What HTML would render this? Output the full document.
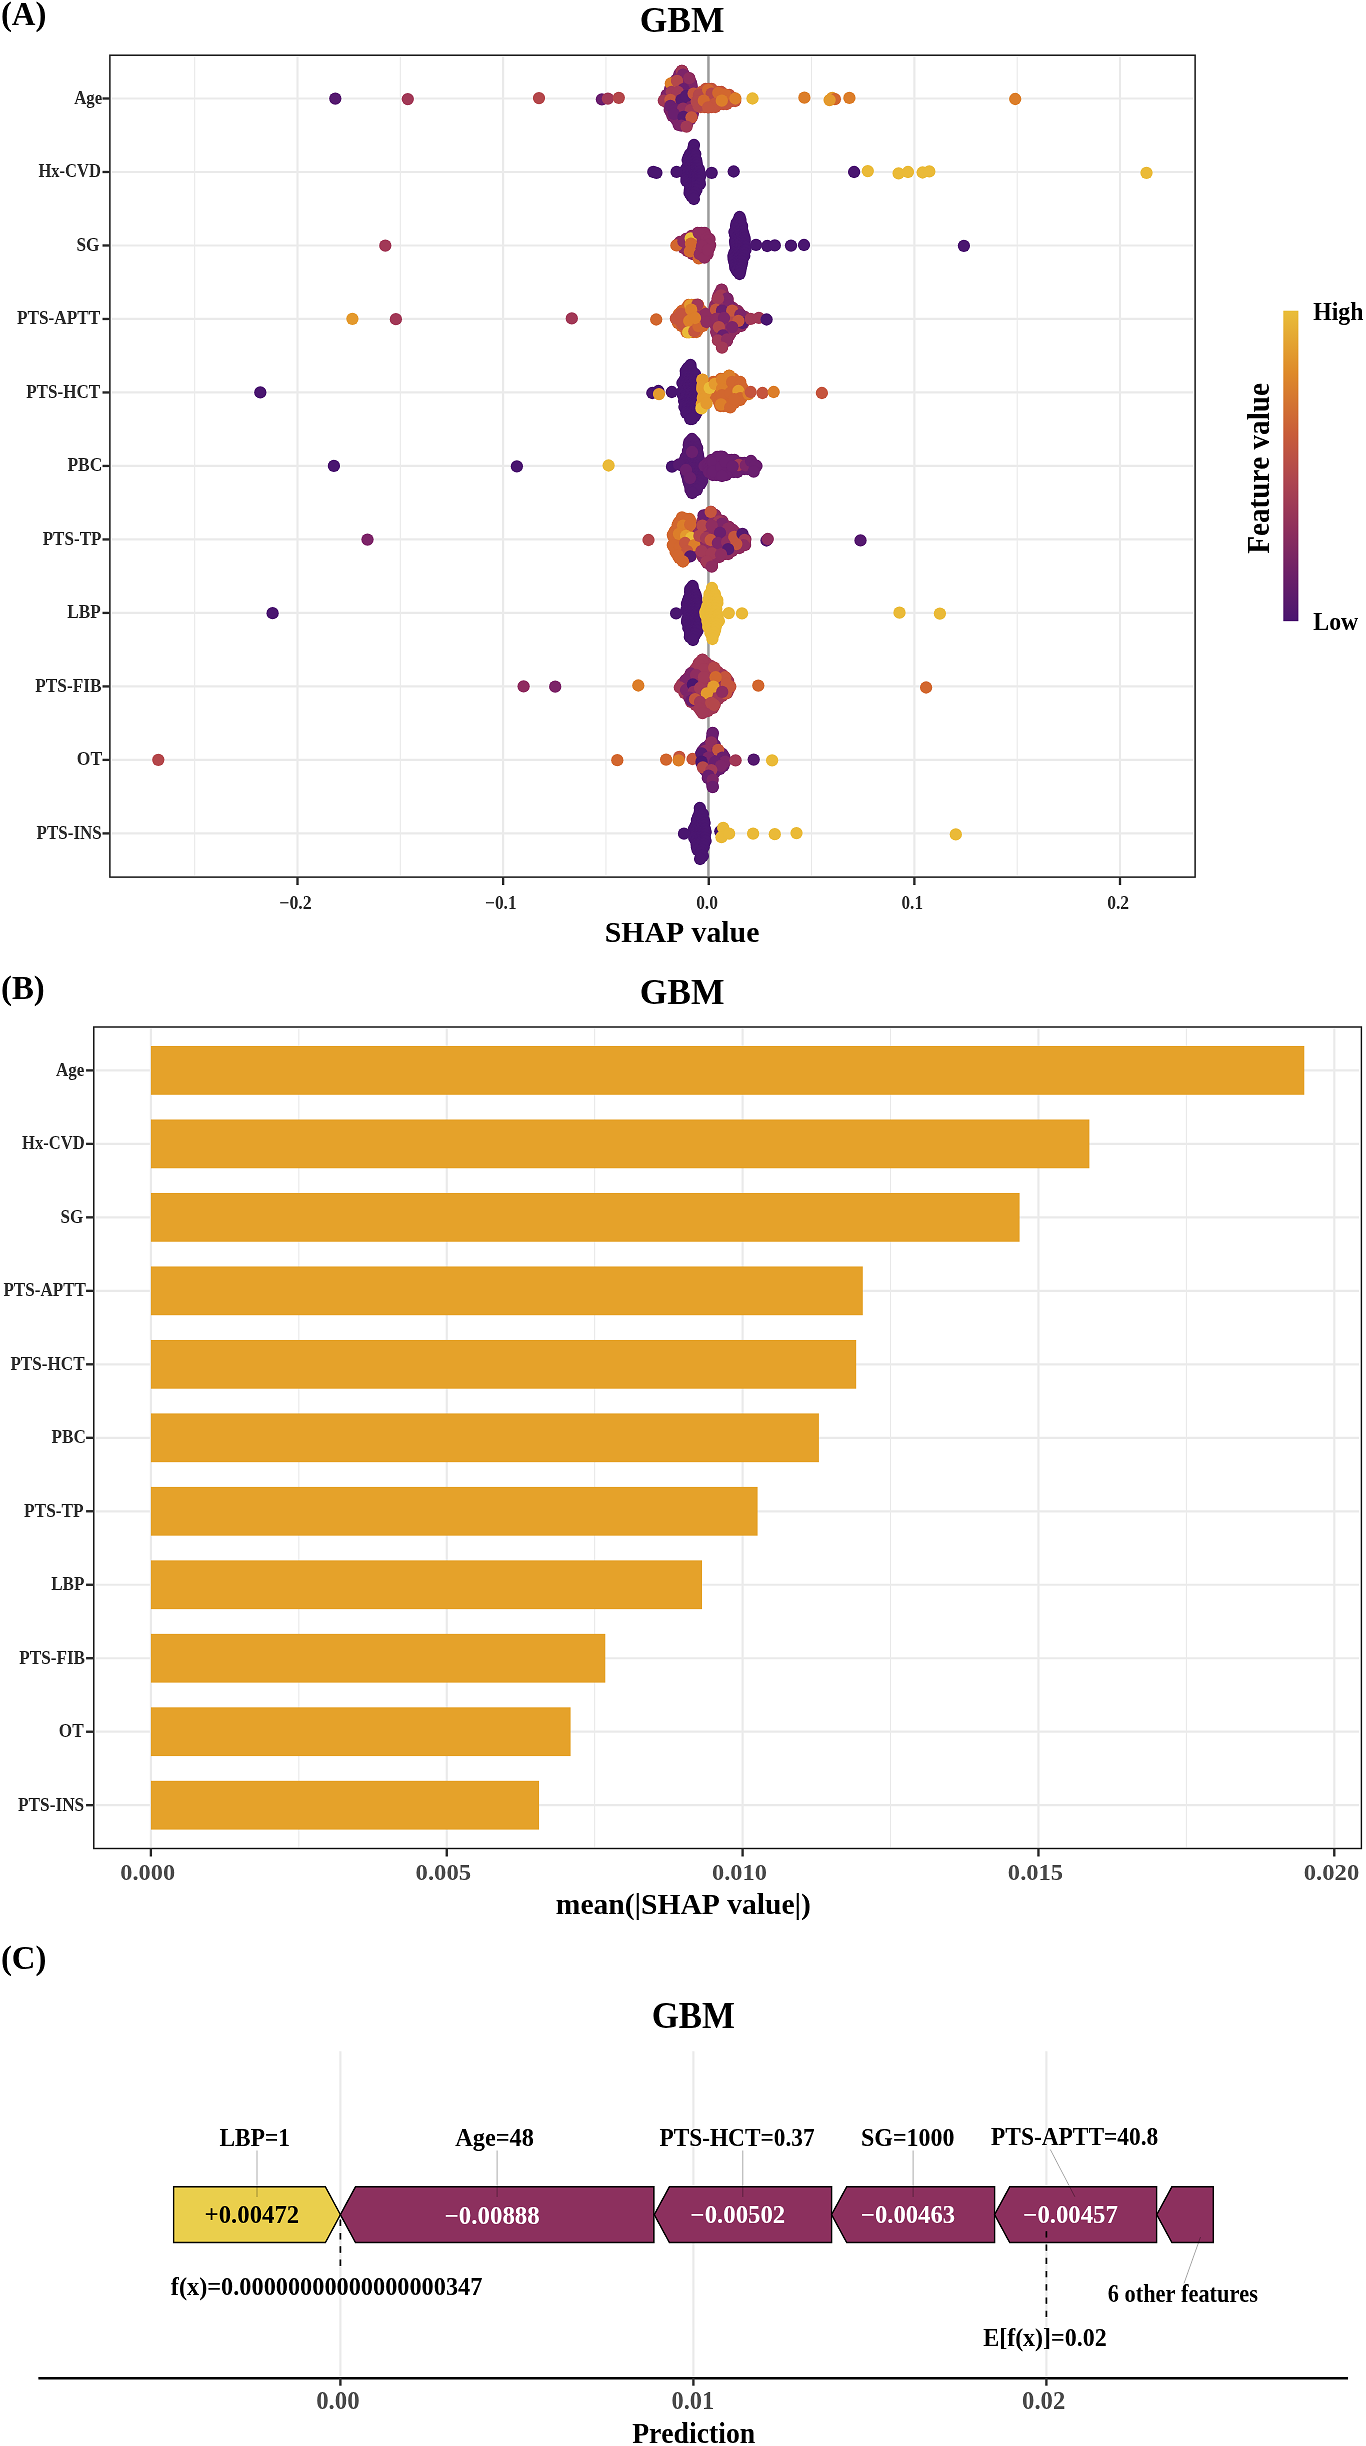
<!DOCTYPE html>
<html><head><meta charset="utf-8"><style>
html,body{margin:0;padding:0;background:#fff;}
svg{display:block;will-change:transform;}
text{font-family:"Liberation Serif", serif;font-weight:bold;font-kerning:none;}
</style></head><body>
<svg width="1366" height="2446" viewBox="0 0 1366 2446">
<defs><filter id="gs" x="0" y="0" width="1366" height="2446" filterUnits="userSpaceOnUse" primitiveUnits="userSpaceOnUse" color-interpolation-filters="sRGB"><feConvolveMatrix order="3" kernelMatrix="0 -0.11 0 -0.11 1.440 -0.11 0 -0.11 0" edgeMode="duplicate" preserveAlpha="true"/></filter></defs><g filter="url(#gs)"><rect width="1366" height="2446" fill="#fff"/>
<text x="0.96" y="24.60" font-size="33.00" textLength="45.48" lengthAdjust="spacingAndGlyphs" fill="#000">(A)</text>
<text x="639.77" y="32.30" font-size="36.40" textLength="84.75" lengthAdjust="spacingAndGlyphs" fill="#000">GBM</text>
<line x1="194.69" y1="56.00" x2="194.69" y2="876.00" stroke="#EBEBEB" stroke-width="1.1"/>
<line x1="400.31" y1="56.00" x2="400.31" y2="876.00" stroke="#EBEBEB" stroke-width="1.1"/>
<line x1="605.94" y1="56.00" x2="605.94" y2="876.00" stroke="#EBEBEB" stroke-width="1.1"/>
<line x1="811.56" y1="56.00" x2="811.56" y2="876.00" stroke="#EBEBEB" stroke-width="1.1"/>
<line x1="1017.19" y1="56.00" x2="1017.19" y2="876.00" stroke="#EBEBEB" stroke-width="1.1"/>
<line x1="297.50" y1="56.00" x2="297.50" y2="876.00" stroke="#EBEBEB" stroke-width="2.2"/>
<line x1="503.12" y1="56.00" x2="503.12" y2="876.00" stroke="#EBEBEB" stroke-width="2.2"/>
<line x1="914.38" y1="56.00" x2="914.38" y2="876.00" stroke="#EBEBEB" stroke-width="2.2"/>
<line x1="1120.00" y1="56.00" x2="1120.00" y2="876.00" stroke="#EBEBEB" stroke-width="2.2"/>
<line x1="112.00" y1="98.50" x2="1193.00" y2="98.50" stroke="#EBEBEB" stroke-width="2.2"/>
<line x1="112.00" y1="171.99" x2="1193.00" y2="171.99" stroke="#EBEBEB" stroke-width="2.2"/>
<line x1="112.00" y1="245.48" x2="1193.00" y2="245.48" stroke="#EBEBEB" stroke-width="2.2"/>
<line x1="112.00" y1="318.97" x2="1193.00" y2="318.97" stroke="#EBEBEB" stroke-width="2.2"/>
<line x1="112.00" y1="392.46" x2="1193.00" y2="392.46" stroke="#EBEBEB" stroke-width="2.2"/>
<line x1="112.00" y1="465.95" x2="1193.00" y2="465.95" stroke="#EBEBEB" stroke-width="2.2"/>
<line x1="112.00" y1="539.44" x2="1193.00" y2="539.44" stroke="#EBEBEB" stroke-width="2.2"/>
<line x1="112.00" y1="612.93" x2="1193.00" y2="612.93" stroke="#EBEBEB" stroke-width="2.2"/>
<line x1="112.00" y1="686.42" x2="1193.00" y2="686.42" stroke="#EBEBEB" stroke-width="2.2"/>
<line x1="112.00" y1="759.91" x2="1193.00" y2="759.91" stroke="#EBEBEB" stroke-width="2.2"/>
<line x1="112.00" y1="833.40" x2="1193.00" y2="833.40" stroke="#EBEBEB" stroke-width="2.2"/>
<line x1="708.45" y1="56.00" x2="708.45" y2="876.00" stroke="#A0A0A0" stroke-width="2.5"/>
<circle cx="682.0" cy="70.8" r="6.15" fill="#7D2569"/>
<circle cx="679.5" cy="73.8" r="6.15" fill="#7D2569"/>
<circle cx="683.5" cy="73.8" r="6.15" fill="#7D2569"/>
<circle cx="678.6" cy="76.8" r="6.15" fill="#7D2569"/>
<circle cx="682.2" cy="76.8" r="6.15" fill="#7D2569"/>
<circle cx="685.8" cy="76.8" r="6.15" fill="#7D2569"/>
<circle cx="676.2" cy="79.8" r="6.15" fill="#7D2569"/>
<circle cx="679.5" cy="79.8" r="6.15" fill="#7D2569"/>
<circle cx="682.8" cy="79.8" r="6.15" fill="#7D2569"/>
<circle cx="686.1" cy="79.8" r="6.15" fill="#7D2569"/>
<circle cx="689.4" cy="79.8" r="6.15" fill="#7D2569"/>
<circle cx="673.2" cy="82.8" r="6.15" fill="#7D2569"/>
<circle cx="676.7" cy="82.8" r="6.15" fill="#7D2569"/>
<circle cx="680.3" cy="82.8" r="6.15" fill="#7D2569"/>
<circle cx="683.8" cy="82.8" r="6.15" fill="#7D2569"/>
<circle cx="687.4" cy="82.8" r="6.15" fill="#7D2569"/>
<circle cx="691.0" cy="82.8" r="6.15" fill="#7D2569"/>
<circle cx="671.6" cy="85.8" r="6.15" fill="#7D2569"/>
<circle cx="675.0" cy="85.8" r="6.15" fill="#7D2569"/>
<circle cx="678.3" cy="85.8" r="6.15" fill="#7D2569"/>
<circle cx="681.7" cy="85.8" r="6.15" fill="#7D2569"/>
<circle cx="685.0" cy="85.8" r="6.15" fill="#7D2569"/>
<circle cx="688.4" cy="85.8" r="6.15" fill="#7D2569"/>
<circle cx="691.7" cy="85.8" r="6.15" fill="#7D2569"/>
<circle cx="670.2" cy="88.8" r="6.15" fill="#7D2569"/>
<circle cx="673.8" cy="88.8" r="6.15" fill="#7D2569"/>
<circle cx="677.4" cy="88.8" r="6.15" fill="#7D2569"/>
<circle cx="680.9" cy="88.8" r="6.15" fill="#7D2569"/>
<circle cx="684.5" cy="88.8" r="6.15" fill="#7D2569"/>
<circle cx="688.1" cy="88.8" r="6.15" fill="#7D2569"/>
<circle cx="691.6" cy="88.8" r="6.15" fill="#7D2569"/>
<circle cx="669.9" cy="91.8" r="6.15" fill="#7D2569"/>
<circle cx="673.4" cy="91.8" r="6.15" fill="#7D2569"/>
<circle cx="677.0" cy="91.8" r="6.15" fill="#7D2569"/>
<circle cx="680.6" cy="91.8" r="6.15" fill="#7D2569"/>
<circle cx="684.2" cy="91.8" r="6.15" fill="#7D2569"/>
<circle cx="687.8" cy="91.8" r="6.15" fill="#7D2569"/>
<circle cx="691.4" cy="91.8" r="6.15" fill="#7D2569"/>
<circle cx="695.0" cy="91.8" r="6.15" fill="#7D2569"/>
<circle cx="666.7" cy="94.8" r="6.15" fill="#7D2569"/>
<circle cx="670.2" cy="94.8" r="6.15" fill="#7D2569"/>
<circle cx="673.7" cy="94.8" r="6.15" fill="#7D2569"/>
<circle cx="677.1" cy="94.8" r="6.15" fill="#7D2569"/>
<circle cx="680.6" cy="94.8" r="6.15" fill="#7D2569"/>
<circle cx="684.1" cy="94.8" r="6.15" fill="#7D2569"/>
<circle cx="687.6" cy="94.8" r="6.15" fill="#7D2569"/>
<circle cx="691.0" cy="94.8" r="6.15" fill="#7D2569"/>
<circle cx="694.5" cy="94.8" r="6.15" fill="#7D2569"/>
<circle cx="666.1" cy="97.8" r="6.15" fill="#7D2569"/>
<circle cx="669.6" cy="97.8" r="6.15" fill="#7D2569"/>
<circle cx="673.2" cy="97.8" r="6.15" fill="#7D2569"/>
<circle cx="676.8" cy="97.8" r="6.15" fill="#7D2569"/>
<circle cx="680.4" cy="97.8" r="6.15" fill="#7D2569"/>
<circle cx="684.0" cy="97.8" r="6.15" fill="#7D2569"/>
<circle cx="687.6" cy="97.8" r="6.15" fill="#7D2569"/>
<circle cx="691.2" cy="97.8" r="6.15" fill="#7D2569"/>
<circle cx="694.7" cy="97.8" r="6.15" fill="#7D2569"/>
<circle cx="698.3" cy="97.8" r="6.15" fill="#7D2569"/>
<circle cx="664.8" cy="100.8" r="6.15" fill="#7D2569"/>
<circle cx="668.4" cy="100.8" r="6.15" fill="#7D2569"/>
<circle cx="672.0" cy="100.8" r="6.15" fill="#7D2569"/>
<circle cx="675.6" cy="100.8" r="6.15" fill="#7D2569"/>
<circle cx="679.2" cy="100.8" r="6.15" fill="#7D2569"/>
<circle cx="682.7" cy="100.8" r="6.15" fill="#7D2569"/>
<circle cx="686.3" cy="100.8" r="6.15" fill="#7D2569"/>
<circle cx="689.9" cy="100.8" r="6.15" fill="#7D2569"/>
<circle cx="693.5" cy="100.8" r="6.15" fill="#7D2569"/>
<circle cx="697.1" cy="100.8" r="6.15" fill="#7D2569"/>
<circle cx="668.4" cy="103.8" r="6.15" fill="#7D2569"/>
<circle cx="672.0" cy="103.8" r="6.15" fill="#7D2569"/>
<circle cx="675.6" cy="103.8" r="6.15" fill="#7D2569"/>
<circle cx="679.2" cy="103.8" r="6.15" fill="#7D2569"/>
<circle cx="682.8" cy="103.8" r="6.15" fill="#7D2569"/>
<circle cx="686.5" cy="103.8" r="6.15" fill="#7D2569"/>
<circle cx="690.1" cy="103.8" r="6.15" fill="#7D2569"/>
<circle cx="693.7" cy="103.8" r="6.15" fill="#7D2569"/>
<circle cx="670.2" cy="106.8" r="6.15" fill="#7D2569"/>
<circle cx="673.9" cy="106.8" r="6.15" fill="#7D2569"/>
<circle cx="677.6" cy="106.8" r="6.15" fill="#7D2569"/>
<circle cx="681.2" cy="106.8" r="6.15" fill="#7D2569"/>
<circle cx="684.9" cy="106.8" r="6.15" fill="#7D2569"/>
<circle cx="688.6" cy="106.8" r="6.15" fill="#7D2569"/>
<circle cx="692.2" cy="106.8" r="6.15" fill="#7D2569"/>
<circle cx="669.7" cy="109.8" r="6.15" fill="#7D2569"/>
<circle cx="673.2" cy="109.8" r="6.15" fill="#7D2569"/>
<circle cx="676.7" cy="109.8" r="6.15" fill="#7D2569"/>
<circle cx="680.2" cy="109.8" r="6.15" fill="#7D2569"/>
<circle cx="683.7" cy="109.8" r="6.15" fill="#7D2569"/>
<circle cx="687.3" cy="109.8" r="6.15" fill="#7D2569"/>
<circle cx="690.8" cy="109.8" r="6.15" fill="#7D2569"/>
<circle cx="671.5" cy="112.8" r="6.15" fill="#7D2569"/>
<circle cx="675.1" cy="112.8" r="6.15" fill="#7D2569"/>
<circle cx="678.7" cy="112.8" r="6.15" fill="#7D2569"/>
<circle cx="682.3" cy="112.8" r="6.15" fill="#7D2569"/>
<circle cx="685.8" cy="112.8" r="6.15" fill="#7D2569"/>
<circle cx="689.4" cy="112.8" r="6.15" fill="#7D2569"/>
<circle cx="693.0" cy="112.8" r="6.15" fill="#7D2569"/>
<circle cx="672.4" cy="115.8" r="6.15" fill="#7D2569"/>
<circle cx="675.7" cy="115.8" r="6.15" fill="#7D2569"/>
<circle cx="679.1" cy="115.8" r="6.15" fill="#7D2569"/>
<circle cx="682.4" cy="115.8" r="6.15" fill="#7D2569"/>
<circle cx="685.7" cy="115.8" r="6.15" fill="#7D2569"/>
<circle cx="689.0" cy="115.8" r="6.15" fill="#7D2569"/>
<circle cx="692.3" cy="115.8" r="6.15" fill="#7D2569"/>
<circle cx="675.8" cy="118.8" r="6.15" fill="#7D2569"/>
<circle cx="679.5" cy="118.8" r="6.15" fill="#7D2569"/>
<circle cx="683.2" cy="118.8" r="6.15" fill="#7D2569"/>
<circle cx="686.9" cy="118.8" r="6.15" fill="#7D2569"/>
<circle cx="690.6" cy="118.8" r="6.15" fill="#7D2569"/>
<circle cx="677.9" cy="121.8" r="6.15" fill="#7D2569"/>
<circle cx="681.2" cy="121.8" r="6.15" fill="#7D2569"/>
<circle cx="684.6" cy="121.8" r="6.15" fill="#7D2569"/>
<circle cx="687.9" cy="121.8" r="6.15" fill="#7D2569"/>
<circle cx="678.7" cy="124.8" r="6.15" fill="#7D2569"/>
<circle cx="682.7" cy="124.8" r="6.15" fill="#7D2569"/>
<circle cx="686.7" cy="124.8" r="6.15" fill="#7D2569"/>
<circle cx="705.6" cy="89.0" r="6.15" fill="#C5553E"/>
<circle cx="708.7" cy="89.0" r="6.15" fill="#C5553E"/>
<circle cx="711.8" cy="89.0" r="6.15" fill="#C5553E"/>
<circle cx="701.4" cy="92.0" r="6.15" fill="#C5553E"/>
<circle cx="704.7" cy="92.0" r="6.15" fill="#C5553E"/>
<circle cx="708.0" cy="92.0" r="6.15" fill="#C5553E"/>
<circle cx="711.3" cy="92.0" r="6.15" fill="#C5553E"/>
<circle cx="714.7" cy="92.0" r="6.15" fill="#C5553E"/>
<circle cx="718.0" cy="92.0" r="6.15" fill="#C5553E"/>
<circle cx="721.3" cy="92.0" r="6.15" fill="#C5553E"/>
<circle cx="698.9" cy="95.0" r="6.15" fill="#C5553E"/>
<circle cx="702.2" cy="95.0" r="6.15" fill="#C5553E"/>
<circle cx="705.6" cy="95.0" r="6.15" fill="#C5553E"/>
<circle cx="709.0" cy="95.0" r="6.15" fill="#C5553E"/>
<circle cx="712.4" cy="95.0" r="6.15" fill="#C5553E"/>
<circle cx="715.8" cy="95.0" r="6.15" fill="#C5553E"/>
<circle cx="719.2" cy="95.0" r="6.15" fill="#C5553E"/>
<circle cx="722.6" cy="95.0" r="6.15" fill="#C5553E"/>
<circle cx="726.0" cy="95.0" r="6.15" fill="#C5553E"/>
<circle cx="729.4" cy="95.0" r="6.15" fill="#C5553E"/>
<circle cx="699.9" cy="98.0" r="6.15" fill="#C5553E"/>
<circle cx="703.6" cy="98.0" r="6.15" fill="#C5553E"/>
<circle cx="707.3" cy="98.0" r="6.15" fill="#C5553E"/>
<circle cx="711.0" cy="98.0" r="6.15" fill="#C5553E"/>
<circle cx="714.7" cy="98.0" r="6.15" fill="#C5553E"/>
<circle cx="718.4" cy="98.0" r="6.15" fill="#C5553E"/>
<circle cx="722.1" cy="98.0" r="6.15" fill="#C5553E"/>
<circle cx="725.8" cy="98.0" r="6.15" fill="#C5553E"/>
<circle cx="729.4" cy="98.0" r="6.15" fill="#C5553E"/>
<circle cx="733.1" cy="98.0" r="6.15" fill="#C5553E"/>
<circle cx="698.2" cy="101.0" r="6.15" fill="#C5553E"/>
<circle cx="701.5" cy="101.0" r="6.15" fill="#C5553E"/>
<circle cx="704.9" cy="101.0" r="6.15" fill="#C5553E"/>
<circle cx="708.3" cy="101.0" r="6.15" fill="#C5553E"/>
<circle cx="711.7" cy="101.0" r="6.15" fill="#C5553E"/>
<circle cx="715.0" cy="101.0" r="6.15" fill="#C5553E"/>
<circle cx="718.4" cy="101.0" r="6.15" fill="#C5553E"/>
<circle cx="721.8" cy="101.0" r="6.15" fill="#C5553E"/>
<circle cx="725.1" cy="101.0" r="6.15" fill="#C5553E"/>
<circle cx="728.5" cy="101.0" r="6.15" fill="#C5553E"/>
<circle cx="731.9" cy="101.0" r="6.15" fill="#C5553E"/>
<circle cx="735.2" cy="101.0" r="6.15" fill="#C5553E"/>
<circle cx="699.6" cy="104.0" r="6.15" fill="#C5553E"/>
<circle cx="703.0" cy="104.0" r="6.15" fill="#C5553E"/>
<circle cx="706.4" cy="104.0" r="6.15" fill="#C5553E"/>
<circle cx="709.8" cy="104.0" r="6.15" fill="#C5553E"/>
<circle cx="713.1" cy="104.0" r="6.15" fill="#C5553E"/>
<circle cx="716.5" cy="104.0" r="6.15" fill="#C5553E"/>
<circle cx="719.9" cy="104.0" r="6.15" fill="#C5553E"/>
<circle cx="723.3" cy="104.0" r="6.15" fill="#C5553E"/>
<circle cx="726.7" cy="104.0" r="6.15" fill="#C5553E"/>
<circle cx="700.7" cy="107.0" r="6.15" fill="#C5553E"/>
<circle cx="704.4" cy="107.0" r="6.15" fill="#C5553E"/>
<circle cx="708.0" cy="107.0" r="6.15" fill="#C5553E"/>
<circle cx="711.7" cy="107.0" r="6.15" fill="#C5553E"/>
<circle cx="715.3" cy="107.0" r="6.15" fill="#C5553E"/>
<circle cx="335.3" cy="98.6" r="6.15" fill="#561A70"/>
<circle cx="407.8" cy="99.1" r="6.15" fill="#A23957"/>
<circle cx="539.0" cy="98.1" r="6.15" fill="#B4474B"/>
<circle cx="601.9" cy="99.3" r="6.15" fill="#6A1F6F"/>
<circle cx="607.9" cy="98.6" r="6.15" fill="#A23957"/>
<circle cx="618.8" cy="97.8" r="6.15" fill="#B4474B"/>
<circle cx="681.8" cy="70.8" r="6.15" fill="#A23957"/>
<circle cx="683.1" cy="74.7" r="6.15" fill="#7D2569"/>
<circle cx="689.3" cy="78.2" r="6.15" fill="#8F2D60"/>
<circle cx="670.8" cy="83.5" r="6.15" fill="#DC7E2A"/>
<circle cx="677.0" cy="80.9" r="6.15" fill="#B4474B"/>
<circle cx="683.5" cy="89.2" r="6.15" fill="#6A1F6F"/>
<circle cx="671.7" cy="91.9" r="6.15" fill="#A23957"/>
<circle cx="677.8" cy="91.9" r="6.15" fill="#A23957"/>
<circle cx="663.8" cy="100.6" r="6.15" fill="#A23957"/>
<circle cx="670.4" cy="99.8" r="6.15" fill="#C5553E"/>
<circle cx="681.4" cy="99.8" r="6.15" fill="#561A70"/>
<circle cx="686.0" cy="96.0" r="6.15" fill="#561A70"/>
<circle cx="670.4" cy="105.9" r="6.15" fill="#6A1F6F"/>
<circle cx="675.0" cy="110.0" r="6.15" fill="#6A1F6F"/>
<circle cx="683.1" cy="108.6" r="6.15" fill="#8F2D60"/>
<circle cx="691.0" cy="109.9" r="6.15" fill="#A23957"/>
<circle cx="673.9" cy="113.8" r="6.15" fill="#6A1F6F"/>
<circle cx="683.5" cy="116.9" r="6.15" fill="#561A70"/>
<circle cx="691.5" cy="117.3" r="6.15" fill="#C5553E"/>
<circle cx="681.4" cy="125.7" r="6.15" fill="#7D2569"/>
<circle cx="686.6" cy="126.6" r="6.15" fill="#A23957"/>
<circle cx="693.6" cy="93.6" r="6.15" fill="#C5553E"/>
<circle cx="698.9" cy="95.4" r="6.15" fill="#B4474B"/>
<circle cx="699.4" cy="94.6" r="6.15" fill="#B4474B"/>
<circle cx="698.5" cy="106.0" r="6.15" fill="#B4474B"/>
<circle cx="696.7" cy="101.5" r="6.15" fill="#B4474B"/>
<circle cx="708.2" cy="89.8" r="6.15" fill="#D2672F"/>
<circle cx="711.7" cy="93.7" r="6.15" fill="#B4474B"/>
<circle cx="718.3" cy="92.8" r="6.15" fill="#D2672F"/>
<circle cx="725.3" cy="94.6" r="6.15" fill="#D2672F"/>
<circle cx="703.8" cy="100.7" r="6.15" fill="#D2672F"/>
<circle cx="714.8" cy="103.8" r="6.15" fill="#C5553E"/>
<circle cx="708.2" cy="107.3" r="6.15" fill="#C5553E"/>
<circle cx="721.8" cy="100.7" r="6.15" fill="#DC7E2A"/>
<circle cx="735.4" cy="98.5" r="6.15" fill="#DC7E2A"/>
<circle cx="752.5" cy="98.5" r="6.15" fill="#EABA38"/>
<circle cx="804.4" cy="97.7" r="6.15" fill="#DC7E2A"/>
<circle cx="832.2" cy="97.9" r="6.15" fill="#E49A2E"/>
<circle cx="834.9" cy="99.2" r="6.15" fill="#D2672F"/>
<circle cx="829.6" cy="100.1" r="6.15" fill="#E49A2E"/>
<circle cx="849.4" cy="97.9" r="6.15" fill="#DC7E2A"/>
<circle cx="1015.2" cy="99.0" r="6.15" fill="#DC7E2A"/>
<circle cx="694.0" cy="145.0" r="6.15" fill="#4A1670"/>
<circle cx="693.4" cy="148.0" r="6.15" fill="#4A1670"/>
<circle cx="692.9" cy="151.0" r="6.15" fill="#4A1670"/>
<circle cx="690.1" cy="154.0" r="6.15" fill="#4A1670"/>
<circle cx="695.3" cy="154.0" r="6.15" fill="#4A1670"/>
<circle cx="688.6" cy="157.0" r="6.15" fill="#4A1670"/>
<circle cx="691.8" cy="157.0" r="6.15" fill="#4A1670"/>
<circle cx="695.0" cy="157.0" r="6.15" fill="#4A1670"/>
<circle cx="687.6" cy="160.0" r="6.15" fill="#4A1670"/>
<circle cx="691.9" cy="160.0" r="6.15" fill="#4A1670"/>
<circle cx="696.2" cy="160.0" r="6.15" fill="#4A1670"/>
<circle cx="688.9" cy="163.0" r="6.15" fill="#4A1670"/>
<circle cx="692.8" cy="163.0" r="6.15" fill="#4A1670"/>
<circle cx="696.7" cy="163.0" r="6.15" fill="#4A1670"/>
<circle cx="687.9" cy="166.0" r="6.15" fill="#4A1670"/>
<circle cx="690.9" cy="166.0" r="6.15" fill="#4A1670"/>
<circle cx="693.9" cy="166.0" r="6.15" fill="#4A1670"/>
<circle cx="696.9" cy="166.0" r="6.15" fill="#4A1670"/>
<circle cx="686.0" cy="169.0" r="6.15" fill="#4A1670"/>
<circle cx="689.2" cy="169.0" r="6.15" fill="#4A1670"/>
<circle cx="692.4" cy="169.0" r="6.15" fill="#4A1670"/>
<circle cx="695.6" cy="169.0" r="6.15" fill="#4A1670"/>
<circle cx="698.8" cy="169.0" r="6.15" fill="#4A1670"/>
<circle cx="684.3" cy="172.0" r="6.15" fill="#4A1670"/>
<circle cx="688.0" cy="172.0" r="6.15" fill="#4A1670"/>
<circle cx="691.8" cy="172.0" r="6.15" fill="#4A1670"/>
<circle cx="695.6" cy="172.0" r="6.15" fill="#4A1670"/>
<circle cx="699.4" cy="172.0" r="6.15" fill="#4A1670"/>
<circle cx="686.4" cy="175.0" r="6.15" fill="#4A1670"/>
<circle cx="689.9" cy="175.0" r="6.15" fill="#4A1670"/>
<circle cx="693.5" cy="175.0" r="6.15" fill="#4A1670"/>
<circle cx="697.1" cy="175.0" r="6.15" fill="#4A1670"/>
<circle cx="700.7" cy="175.0" r="6.15" fill="#4A1670"/>
<circle cx="686.5" cy="178.0" r="6.15" fill="#4A1670"/>
<circle cx="689.7" cy="178.0" r="6.15" fill="#4A1670"/>
<circle cx="693.0" cy="178.0" r="6.15" fill="#4A1670"/>
<circle cx="696.3" cy="178.0" r="6.15" fill="#4A1670"/>
<circle cx="699.5" cy="178.0" r="6.15" fill="#4A1670"/>
<circle cx="686.4" cy="181.0" r="6.15" fill="#4A1670"/>
<circle cx="689.7" cy="181.0" r="6.15" fill="#4A1670"/>
<circle cx="692.9" cy="181.0" r="6.15" fill="#4A1670"/>
<circle cx="696.2" cy="181.0" r="6.15" fill="#4A1670"/>
<circle cx="699.4" cy="181.0" r="6.15" fill="#4A1670"/>
<circle cx="689.4" cy="184.0" r="6.15" fill="#4A1670"/>
<circle cx="692.9" cy="184.0" r="6.15" fill="#4A1670"/>
<circle cx="696.4" cy="184.0" r="6.15" fill="#4A1670"/>
<circle cx="699.9" cy="184.0" r="6.15" fill="#4A1670"/>
<circle cx="690.6" cy="187.0" r="6.15" fill="#4A1670"/>
<circle cx="693.5" cy="187.0" r="6.15" fill="#4A1670"/>
<circle cx="696.4" cy="187.0" r="6.15" fill="#4A1670"/>
<circle cx="689.8" cy="190.0" r="6.15" fill="#4A1670"/>
<circle cx="693.1" cy="190.0" r="6.15" fill="#4A1670"/>
<circle cx="696.4" cy="190.0" r="6.15" fill="#4A1670"/>
<circle cx="689.5" cy="193.0" r="6.15" fill="#4A1670"/>
<circle cx="692.1" cy="193.0" r="6.15" fill="#4A1670"/>
<circle cx="694.8" cy="193.0" r="6.15" fill="#4A1670"/>
<circle cx="691.3" cy="196.0" r="6.15" fill="#4A1670"/>
<circle cx="693.2" cy="196.0" r="6.15" fill="#4A1670"/>
<circle cx="693.9" cy="199.0" r="6.15" fill="#4A1670"/>
<circle cx="653.3" cy="171.9" r="6.15" fill="#4A1670"/>
<circle cx="656.4" cy="172.8" r="6.15" fill="#4A1670"/>
<circle cx="676.6" cy="171.9" r="6.15" fill="#4A1670"/>
<circle cx="711.7" cy="172.8" r="6.15" fill="#4A1670"/>
<circle cx="733.7" cy="171.5" r="6.15" fill="#4A1670"/>
<circle cx="854.1" cy="172.0" r="6.15" fill="#4A1670"/>
<circle cx="867.8" cy="171.1" r="6.15" fill="#EABA38"/>
<circle cx="898.6" cy="173.4" r="6.15" fill="#EABA38"/>
<circle cx="908.0" cy="172.0" r="6.15" fill="#EABA38"/>
<circle cx="922.6" cy="172.5" r="6.15" fill="#EABA38"/>
<circle cx="929.3" cy="171.4" r="6.15" fill="#EABA38"/>
<circle cx="1146.5" cy="172.8" r="6.15" fill="#EABA38"/>
<circle cx="697.6" cy="233.0" r="6.15" fill="#8F2D60"/>
<circle cx="701.2" cy="233.0" r="6.15" fill="#8F2D60"/>
<circle cx="704.9" cy="233.0" r="6.15" fill="#8F2D60"/>
<circle cx="691.4" cy="236.0" r="6.15" fill="#8F2D60"/>
<circle cx="694.9" cy="236.0" r="6.15" fill="#8F2D60"/>
<circle cx="698.4" cy="236.0" r="6.15" fill="#8F2D60"/>
<circle cx="701.8" cy="236.0" r="6.15" fill="#8F2D60"/>
<circle cx="705.3" cy="236.0" r="6.15" fill="#8F2D60"/>
<circle cx="685.8" cy="239.0" r="6.15" fill="#8F2D60"/>
<circle cx="689.2" cy="239.0" r="6.15" fill="#8F2D60"/>
<circle cx="692.6" cy="239.0" r="6.15" fill="#8F2D60"/>
<circle cx="695.9" cy="239.0" r="6.15" fill="#8F2D60"/>
<circle cx="699.3" cy="239.0" r="6.15" fill="#8F2D60"/>
<circle cx="702.7" cy="239.0" r="6.15" fill="#8F2D60"/>
<circle cx="706.1" cy="239.0" r="6.15" fill="#8F2D60"/>
<circle cx="709.5" cy="239.0" r="6.15" fill="#8F2D60"/>
<circle cx="679.9" cy="242.0" r="6.15" fill="#8F2D60"/>
<circle cx="683.5" cy="242.0" r="6.15" fill="#8F2D60"/>
<circle cx="687.1" cy="242.0" r="6.15" fill="#8F2D60"/>
<circle cx="690.7" cy="242.0" r="6.15" fill="#8F2D60"/>
<circle cx="694.3" cy="242.0" r="6.15" fill="#8F2D60"/>
<circle cx="698.0" cy="242.0" r="6.15" fill="#8F2D60"/>
<circle cx="701.6" cy="242.0" r="6.15" fill="#8F2D60"/>
<circle cx="705.2" cy="242.0" r="6.15" fill="#8F2D60"/>
<circle cx="708.8" cy="242.0" r="6.15" fill="#8F2D60"/>
<circle cx="677.2" cy="245.0" r="6.15" fill="#8F2D60"/>
<circle cx="680.8" cy="245.0" r="6.15" fill="#8F2D60"/>
<circle cx="684.5" cy="245.0" r="6.15" fill="#8F2D60"/>
<circle cx="688.2" cy="245.0" r="6.15" fill="#8F2D60"/>
<circle cx="691.9" cy="245.0" r="6.15" fill="#8F2D60"/>
<circle cx="695.5" cy="245.0" r="6.15" fill="#8F2D60"/>
<circle cx="699.2" cy="245.0" r="6.15" fill="#8F2D60"/>
<circle cx="702.9" cy="245.0" r="6.15" fill="#8F2D60"/>
<circle cx="706.6" cy="245.0" r="6.15" fill="#8F2D60"/>
<circle cx="710.2" cy="245.0" r="6.15" fill="#8F2D60"/>
<circle cx="683.6" cy="248.0" r="6.15" fill="#8F2D60"/>
<circle cx="687.3" cy="248.0" r="6.15" fill="#8F2D60"/>
<circle cx="690.9" cy="248.0" r="6.15" fill="#8F2D60"/>
<circle cx="694.6" cy="248.0" r="6.15" fill="#8F2D60"/>
<circle cx="698.3" cy="248.0" r="6.15" fill="#8F2D60"/>
<circle cx="702.0" cy="248.0" r="6.15" fill="#8F2D60"/>
<circle cx="705.6" cy="248.0" r="6.15" fill="#8F2D60"/>
<circle cx="709.3" cy="248.0" r="6.15" fill="#8F2D60"/>
<circle cx="687.4" cy="251.0" r="6.15" fill="#8F2D60"/>
<circle cx="690.7" cy="251.0" r="6.15" fill="#8F2D60"/>
<circle cx="694.0" cy="251.0" r="6.15" fill="#8F2D60"/>
<circle cx="697.2" cy="251.0" r="6.15" fill="#8F2D60"/>
<circle cx="700.5" cy="251.0" r="6.15" fill="#8F2D60"/>
<circle cx="703.8" cy="251.0" r="6.15" fill="#8F2D60"/>
<circle cx="707.0" cy="251.0" r="6.15" fill="#8F2D60"/>
<circle cx="692.5" cy="254.0" r="6.15" fill="#8F2D60"/>
<circle cx="696.3" cy="254.0" r="6.15" fill="#8F2D60"/>
<circle cx="700.1" cy="254.0" r="6.15" fill="#8F2D60"/>
<circle cx="703.8" cy="254.0" r="6.15" fill="#8F2D60"/>
<circle cx="707.6" cy="254.0" r="6.15" fill="#8F2D60"/>
<circle cx="699.0" cy="257.0" r="6.15" fill="#8F2D60"/>
<circle cx="701.6" cy="257.0" r="6.15" fill="#8F2D60"/>
<circle cx="704.2" cy="257.0" r="6.15" fill="#8F2D60"/>
<circle cx="385.3" cy="245.7" r="6.15" fill="#A23957"/>
<circle cx="676.4" cy="245.4" r="6.15" fill="#D2672F"/>
<circle cx="683.4" cy="241.3" r="6.15" fill="#8F2D60"/>
<circle cx="690.7" cy="238.4" r="6.15" fill="#EABA38"/>
<circle cx="691.0" cy="243.7" r="6.15" fill="#D2672F"/>
<circle cx="689.9" cy="251.3" r="6.15" fill="#D2672F"/>
<circle cx="698.7" cy="258.3" r="6.15" fill="#D2672F"/>
<circle cx="703.3" cy="233.1" r="6.15" fill="#8F2D60"/>
<circle cx="698.7" cy="233.1" r="6.15" fill="#8F2D60"/>
<circle cx="706.8" cy="237.8" r="6.15" fill="#8F2D60"/>
<circle cx="709.2" cy="240.1" r="6.15" fill="#8F2D60"/>
<circle cx="708.0" cy="244.8" r="6.15" fill="#8F2D60"/>
<circle cx="706.8" cy="251.8" r="6.15" fill="#8F2D60"/>
<circle cx="699.8" cy="254.2" r="6.15" fill="#8F2D60"/>
<circle cx="704.5" cy="257.7" r="6.15" fill="#8F2D60"/>
<circle cx="702.0" cy="246.0" r="6.15" fill="#8F2D60"/>
<circle cx="708.0" cy="250.0" r="6.15" fill="#8F2D60"/>
<circle cx="739.6" cy="217.0" r="6.15" fill="#4A1670"/>
<circle cx="738.6" cy="220.0" r="6.15" fill="#4A1670"/>
<circle cx="740.5" cy="220.0" r="6.15" fill="#4A1670"/>
<circle cx="736.6" cy="223.0" r="6.15" fill="#4A1670"/>
<circle cx="740.5" cy="223.0" r="6.15" fill="#4A1670"/>
<circle cx="736.0" cy="226.0" r="6.15" fill="#4A1670"/>
<circle cx="739.0" cy="226.0" r="6.15" fill="#4A1670"/>
<circle cx="742.1" cy="226.0" r="6.15" fill="#4A1670"/>
<circle cx="736.7" cy="229.0" r="6.15" fill="#4A1670"/>
<circle cx="741.8" cy="229.0" r="6.15" fill="#4A1670"/>
<circle cx="734.4" cy="232.0" r="6.15" fill="#4A1670"/>
<circle cx="738.6" cy="232.0" r="6.15" fill="#4A1670"/>
<circle cx="742.8" cy="232.0" r="6.15" fill="#4A1670"/>
<circle cx="735.1" cy="235.0" r="6.15" fill="#4A1670"/>
<circle cx="739.4" cy="235.0" r="6.15" fill="#4A1670"/>
<circle cx="743.7" cy="235.0" r="6.15" fill="#4A1670"/>
<circle cx="736.7" cy="238.0" r="6.15" fill="#4A1670"/>
<circle cx="740.6" cy="238.0" r="6.15" fill="#4A1670"/>
<circle cx="744.6" cy="238.0" r="6.15" fill="#4A1670"/>
<circle cx="735.0" cy="241.0" r="6.15" fill="#4A1670"/>
<circle cx="738.3" cy="241.0" r="6.15" fill="#4A1670"/>
<circle cx="741.5" cy="241.0" r="6.15" fill="#4A1670"/>
<circle cx="744.8" cy="241.0" r="6.15" fill="#4A1670"/>
<circle cx="735.3" cy="244.0" r="6.15" fill="#4A1670"/>
<circle cx="739.3" cy="244.0" r="6.15" fill="#4A1670"/>
<circle cx="743.4" cy="244.0" r="6.15" fill="#4A1670"/>
<circle cx="735.9" cy="247.0" r="6.15" fill="#4A1670"/>
<circle cx="739.2" cy="247.0" r="6.15" fill="#4A1670"/>
<circle cx="742.4" cy="247.0" r="6.15" fill="#4A1670"/>
<circle cx="745.7" cy="247.0" r="6.15" fill="#4A1670"/>
<circle cx="735.8" cy="250.0" r="6.15" fill="#4A1670"/>
<circle cx="739.0" cy="250.0" r="6.15" fill="#4A1670"/>
<circle cx="742.2" cy="250.0" r="6.15" fill="#4A1670"/>
<circle cx="745.5" cy="250.0" r="6.15" fill="#4A1670"/>
<circle cx="734.3" cy="253.0" r="6.15" fill="#4A1670"/>
<circle cx="737.5" cy="253.0" r="6.15" fill="#4A1670"/>
<circle cx="740.7" cy="253.0" r="6.15" fill="#4A1670"/>
<circle cx="743.9" cy="253.0" r="6.15" fill="#4A1670"/>
<circle cx="733.4" cy="256.0" r="6.15" fill="#4A1670"/>
<circle cx="737.1" cy="256.0" r="6.15" fill="#4A1670"/>
<circle cx="740.7" cy="256.0" r="6.15" fill="#4A1670"/>
<circle cx="744.3" cy="256.0" r="6.15" fill="#4A1670"/>
<circle cx="733.6" cy="259.0" r="6.15" fill="#4A1670"/>
<circle cx="737.9" cy="259.0" r="6.15" fill="#4A1670"/>
<circle cx="742.2" cy="259.0" r="6.15" fill="#4A1670"/>
<circle cx="734.3" cy="262.0" r="6.15" fill="#4A1670"/>
<circle cx="738.3" cy="262.0" r="6.15" fill="#4A1670"/>
<circle cx="742.2" cy="262.0" r="6.15" fill="#4A1670"/>
<circle cx="735.0" cy="265.0" r="6.15" fill="#4A1670"/>
<circle cx="738.3" cy="265.0" r="6.15" fill="#4A1670"/>
<circle cx="741.6" cy="265.0" r="6.15" fill="#4A1670"/>
<circle cx="735.3" cy="268.0" r="6.15" fill="#4A1670"/>
<circle cx="738.0" cy="268.0" r="6.15" fill="#4A1670"/>
<circle cx="740.8" cy="268.0" r="6.15" fill="#4A1670"/>
<circle cx="737.0" cy="271.0" r="6.15" fill="#4A1670"/>
<circle cx="740.3" cy="271.0" r="6.15" fill="#4A1670"/>
<circle cx="739.6" cy="274.0" r="6.15" fill="#4A1670"/>
<circle cx="756.0" cy="244.8" r="6.15" fill="#4A1670"/>
<circle cx="767.2" cy="246.0" r="6.15" fill="#4A1670"/>
<circle cx="774.8" cy="245.4" r="6.15" fill="#4A1670"/>
<circle cx="791.0" cy="245.6" r="6.15" fill="#4A1670"/>
<circle cx="804.0" cy="245.0" r="6.15" fill="#4A1670"/>
<circle cx="963.9" cy="245.8" r="6.15" fill="#4A1670"/>
<circle cx="688.5" cy="305.0" r="6.15" fill="#D2672F"/>
<circle cx="691.7" cy="305.0" r="6.15" fill="#D2672F"/>
<circle cx="695.0" cy="305.0" r="6.15" fill="#D2672F"/>
<circle cx="698.2" cy="305.0" r="6.15" fill="#D2672F"/>
<circle cx="686.6" cy="308.0" r="6.15" fill="#D2672F"/>
<circle cx="690.6" cy="308.0" r="6.15" fill="#D2672F"/>
<circle cx="694.5" cy="308.0" r="6.15" fill="#D2672F"/>
<circle cx="698.5" cy="308.0" r="6.15" fill="#D2672F"/>
<circle cx="681.7" cy="311.0" r="6.15" fill="#D2672F"/>
<circle cx="685.0" cy="311.0" r="6.15" fill="#D2672F"/>
<circle cx="688.4" cy="311.0" r="6.15" fill="#D2672F"/>
<circle cx="691.7" cy="311.0" r="6.15" fill="#D2672F"/>
<circle cx="695.1" cy="311.0" r="6.15" fill="#D2672F"/>
<circle cx="698.4" cy="311.0" r="6.15" fill="#D2672F"/>
<circle cx="701.8" cy="311.0" r="6.15" fill="#D2672F"/>
<circle cx="678.9" cy="314.0" r="6.15" fill="#D2672F"/>
<circle cx="682.4" cy="314.0" r="6.15" fill="#D2672F"/>
<circle cx="685.9" cy="314.0" r="6.15" fill="#D2672F"/>
<circle cx="689.4" cy="314.0" r="6.15" fill="#D2672F"/>
<circle cx="692.8" cy="314.0" r="6.15" fill="#D2672F"/>
<circle cx="696.3" cy="314.0" r="6.15" fill="#D2672F"/>
<circle cx="699.8" cy="314.0" r="6.15" fill="#D2672F"/>
<circle cx="703.3" cy="314.0" r="6.15" fill="#D2672F"/>
<circle cx="678.4" cy="317.0" r="6.15" fill="#D2672F"/>
<circle cx="682.1" cy="317.0" r="6.15" fill="#D2672F"/>
<circle cx="685.7" cy="317.0" r="6.15" fill="#D2672F"/>
<circle cx="689.4" cy="317.0" r="6.15" fill="#D2672F"/>
<circle cx="693.0" cy="317.0" r="6.15" fill="#D2672F"/>
<circle cx="696.7" cy="317.0" r="6.15" fill="#D2672F"/>
<circle cx="700.3" cy="317.0" r="6.15" fill="#D2672F"/>
<circle cx="703.9" cy="317.0" r="6.15" fill="#D2672F"/>
<circle cx="707.6" cy="317.0" r="6.15" fill="#D2672F"/>
<circle cx="676.7" cy="320.0" r="6.15" fill="#D2672F"/>
<circle cx="680.0" cy="320.0" r="6.15" fill="#D2672F"/>
<circle cx="683.4" cy="320.0" r="6.15" fill="#D2672F"/>
<circle cx="686.7" cy="320.0" r="6.15" fill="#D2672F"/>
<circle cx="690.0" cy="320.0" r="6.15" fill="#D2672F"/>
<circle cx="693.3" cy="320.0" r="6.15" fill="#D2672F"/>
<circle cx="696.7" cy="320.0" r="6.15" fill="#D2672F"/>
<circle cx="700.0" cy="320.0" r="6.15" fill="#D2672F"/>
<circle cx="703.3" cy="320.0" r="6.15" fill="#D2672F"/>
<circle cx="706.6" cy="320.0" r="6.15" fill="#D2672F"/>
<circle cx="678.0" cy="323.0" r="6.15" fill="#D2672F"/>
<circle cx="681.3" cy="323.0" r="6.15" fill="#D2672F"/>
<circle cx="684.6" cy="323.0" r="6.15" fill="#D2672F"/>
<circle cx="687.9" cy="323.0" r="6.15" fill="#D2672F"/>
<circle cx="691.2" cy="323.0" r="6.15" fill="#D2672F"/>
<circle cx="694.5" cy="323.0" r="6.15" fill="#D2672F"/>
<circle cx="697.8" cy="323.0" r="6.15" fill="#D2672F"/>
<circle cx="701.1" cy="323.0" r="6.15" fill="#D2672F"/>
<circle cx="704.4" cy="323.0" r="6.15" fill="#D2672F"/>
<circle cx="681.5" cy="326.0" r="6.15" fill="#D2672F"/>
<circle cx="685.1" cy="326.0" r="6.15" fill="#D2672F"/>
<circle cx="688.6" cy="326.0" r="6.15" fill="#D2672F"/>
<circle cx="692.2" cy="326.0" r="6.15" fill="#D2672F"/>
<circle cx="695.7" cy="326.0" r="6.15" fill="#D2672F"/>
<circle cx="699.3" cy="326.0" r="6.15" fill="#D2672F"/>
<circle cx="702.8" cy="326.0" r="6.15" fill="#D2672F"/>
<circle cx="686.1" cy="329.0" r="6.15" fill="#D2672F"/>
<circle cx="690.1" cy="329.0" r="6.15" fill="#D2672F"/>
<circle cx="694.2" cy="329.0" r="6.15" fill="#D2672F"/>
<circle cx="698.2" cy="329.0" r="6.15" fill="#D2672F"/>
<circle cx="686.5" cy="332.0" r="6.15" fill="#D2672F"/>
<circle cx="689.8" cy="332.0" r="6.15" fill="#D2672F"/>
<circle cx="693.1" cy="332.0" r="6.15" fill="#D2672F"/>
<circle cx="696.4" cy="332.0" r="6.15" fill="#D2672F"/>
<circle cx="721.8" cy="290.0" r="6.15" fill="#8F2D60"/>
<circle cx="719.7" cy="293.0" r="6.15" fill="#8F2D60"/>
<circle cx="722.7" cy="293.0" r="6.15" fill="#8F2D60"/>
<circle cx="718.3" cy="296.0" r="6.15" fill="#8F2D60"/>
<circle cx="721.0" cy="296.0" r="6.15" fill="#8F2D60"/>
<circle cx="723.8" cy="296.0" r="6.15" fill="#8F2D60"/>
<circle cx="717.5" cy="299.0" r="6.15" fill="#8F2D60"/>
<circle cx="720.9" cy="299.0" r="6.15" fill="#8F2D60"/>
<circle cx="724.3" cy="299.0" r="6.15" fill="#8F2D60"/>
<circle cx="727.7" cy="299.0" r="6.15" fill="#8F2D60"/>
<circle cx="717.8" cy="302.0" r="6.15" fill="#8F2D60"/>
<circle cx="721.1" cy="302.0" r="6.15" fill="#8F2D60"/>
<circle cx="724.4" cy="302.0" r="6.15" fill="#8F2D60"/>
<circle cx="727.7" cy="302.0" r="6.15" fill="#8F2D60"/>
<circle cx="715.2" cy="305.0" r="6.15" fill="#8F2D60"/>
<circle cx="718.3" cy="305.0" r="6.15" fill="#8F2D60"/>
<circle cx="721.4" cy="305.0" r="6.15" fill="#8F2D60"/>
<circle cx="724.5" cy="305.0" r="6.15" fill="#8F2D60"/>
<circle cx="727.6" cy="305.0" r="6.15" fill="#8F2D60"/>
<circle cx="714.5" cy="308.0" r="6.15" fill="#8F2D60"/>
<circle cx="718.2" cy="308.0" r="6.15" fill="#8F2D60"/>
<circle cx="721.9" cy="308.0" r="6.15" fill="#8F2D60"/>
<circle cx="725.6" cy="308.0" r="6.15" fill="#8F2D60"/>
<circle cx="729.3" cy="308.0" r="6.15" fill="#8F2D60"/>
<circle cx="733.0" cy="308.0" r="6.15" fill="#8F2D60"/>
<circle cx="715.3" cy="311.0" r="6.15" fill="#8F2D60"/>
<circle cx="719.1" cy="311.0" r="6.15" fill="#8F2D60"/>
<circle cx="722.9" cy="311.0" r="6.15" fill="#8F2D60"/>
<circle cx="726.6" cy="311.0" r="6.15" fill="#8F2D60"/>
<circle cx="730.4" cy="311.0" r="6.15" fill="#8F2D60"/>
<circle cx="734.2" cy="311.0" r="6.15" fill="#8F2D60"/>
<circle cx="737.9" cy="311.0" r="6.15" fill="#8F2D60"/>
<circle cx="714.5" cy="314.0" r="6.15" fill="#8F2D60"/>
<circle cx="718.1" cy="314.0" r="6.15" fill="#8F2D60"/>
<circle cx="721.8" cy="314.0" r="6.15" fill="#8F2D60"/>
<circle cx="725.4" cy="314.0" r="6.15" fill="#8F2D60"/>
<circle cx="729.1" cy="314.0" r="6.15" fill="#8F2D60"/>
<circle cx="732.8" cy="314.0" r="6.15" fill="#8F2D60"/>
<circle cx="736.4" cy="314.0" r="6.15" fill="#8F2D60"/>
<circle cx="740.1" cy="314.0" r="6.15" fill="#8F2D60"/>
<circle cx="716.0" cy="317.0" r="6.15" fill="#8F2D60"/>
<circle cx="719.6" cy="317.0" r="6.15" fill="#8F2D60"/>
<circle cx="723.2" cy="317.0" r="6.15" fill="#8F2D60"/>
<circle cx="726.9" cy="317.0" r="6.15" fill="#8F2D60"/>
<circle cx="730.5" cy="317.0" r="6.15" fill="#8F2D60"/>
<circle cx="734.1" cy="317.0" r="6.15" fill="#8F2D60"/>
<circle cx="737.7" cy="317.0" r="6.15" fill="#8F2D60"/>
<circle cx="741.3" cy="317.0" r="6.15" fill="#8F2D60"/>
<circle cx="744.9" cy="317.0" r="6.15" fill="#8F2D60"/>
<circle cx="716.4" cy="320.0" r="6.15" fill="#8F2D60"/>
<circle cx="720.0" cy="320.0" r="6.15" fill="#8F2D60"/>
<circle cx="723.6" cy="320.0" r="6.15" fill="#8F2D60"/>
<circle cx="727.3" cy="320.0" r="6.15" fill="#8F2D60"/>
<circle cx="730.9" cy="320.0" r="6.15" fill="#8F2D60"/>
<circle cx="734.5" cy="320.0" r="6.15" fill="#8F2D60"/>
<circle cx="738.2" cy="320.0" r="6.15" fill="#8F2D60"/>
<circle cx="741.8" cy="320.0" r="6.15" fill="#8F2D60"/>
<circle cx="745.4" cy="320.0" r="6.15" fill="#8F2D60"/>
<circle cx="717.0" cy="323.0" r="6.15" fill="#8F2D60"/>
<circle cx="720.4" cy="323.0" r="6.15" fill="#8F2D60"/>
<circle cx="723.7" cy="323.0" r="6.15" fill="#8F2D60"/>
<circle cx="727.0" cy="323.0" r="6.15" fill="#8F2D60"/>
<circle cx="730.3" cy="323.0" r="6.15" fill="#8F2D60"/>
<circle cx="733.6" cy="323.0" r="6.15" fill="#8F2D60"/>
<circle cx="736.9" cy="323.0" r="6.15" fill="#8F2D60"/>
<circle cx="740.2" cy="323.0" r="6.15" fill="#8F2D60"/>
<circle cx="743.5" cy="323.0" r="6.15" fill="#8F2D60"/>
<circle cx="715.9" cy="326.0" r="6.15" fill="#8F2D60"/>
<circle cx="719.5" cy="326.0" r="6.15" fill="#8F2D60"/>
<circle cx="723.1" cy="326.0" r="6.15" fill="#8F2D60"/>
<circle cx="726.7" cy="326.0" r="6.15" fill="#8F2D60"/>
<circle cx="730.3" cy="326.0" r="6.15" fill="#8F2D60"/>
<circle cx="733.9" cy="326.0" r="6.15" fill="#8F2D60"/>
<circle cx="737.5" cy="326.0" r="6.15" fill="#8F2D60"/>
<circle cx="741.1" cy="326.0" r="6.15" fill="#8F2D60"/>
<circle cx="716.7" cy="329.0" r="6.15" fill="#8F2D60"/>
<circle cx="720.4" cy="329.0" r="6.15" fill="#8F2D60"/>
<circle cx="724.0" cy="329.0" r="6.15" fill="#8F2D60"/>
<circle cx="727.7" cy="329.0" r="6.15" fill="#8F2D60"/>
<circle cx="731.3" cy="329.0" r="6.15" fill="#8F2D60"/>
<circle cx="735.0" cy="329.0" r="6.15" fill="#8F2D60"/>
<circle cx="716.1" cy="332.0" r="6.15" fill="#8F2D60"/>
<circle cx="719.9" cy="332.0" r="6.15" fill="#8F2D60"/>
<circle cx="723.7" cy="332.0" r="6.15" fill="#8F2D60"/>
<circle cx="727.5" cy="332.0" r="6.15" fill="#8F2D60"/>
<circle cx="731.3" cy="332.0" r="6.15" fill="#8F2D60"/>
<circle cx="717.3" cy="335.0" r="6.15" fill="#8F2D60"/>
<circle cx="720.3" cy="335.0" r="6.15" fill="#8F2D60"/>
<circle cx="723.4" cy="335.0" r="6.15" fill="#8F2D60"/>
<circle cx="726.5" cy="335.0" r="6.15" fill="#8F2D60"/>
<circle cx="729.6" cy="335.0" r="6.15" fill="#8F2D60"/>
<circle cx="719.9" cy="338.0" r="6.15" fill="#8F2D60"/>
<circle cx="723.4" cy="338.0" r="6.15" fill="#8F2D60"/>
<circle cx="727.0" cy="338.0" r="6.15" fill="#8F2D60"/>
<circle cx="720.2" cy="341.0" r="6.15" fill="#8F2D60"/>
<circle cx="723.5" cy="341.0" r="6.15" fill="#8F2D60"/>
<circle cx="726.9" cy="341.0" r="6.15" fill="#8F2D60"/>
<circle cx="722.5" cy="344.0" r="6.15" fill="#8F2D60"/>
<circle cx="722.0" cy="347.0" r="6.15" fill="#8F2D60"/>
<circle cx="352.4" cy="318.8" r="6.15" fill="#E49A2E"/>
<circle cx="395.9" cy="319.2" r="6.15" fill="#A23957"/>
<circle cx="571.8" cy="318.4" r="6.15" fill="#A23957"/>
<circle cx="656.2" cy="319.5" r="6.15" fill="#D2672F"/>
<circle cx="675.9" cy="318.4" r="6.15" fill="#C5553E"/>
<circle cx="681.0" cy="313.8" r="6.15" fill="#C5553E"/>
<circle cx="682.0" cy="324.1" r="6.15" fill="#C5553E"/>
<circle cx="690.2" cy="305.1" r="6.15" fill="#E49A2E"/>
<circle cx="697.4" cy="304.6" r="6.15" fill="#A23957"/>
<circle cx="691.2" cy="309.7" r="6.15" fill="#DC7E2A"/>
<circle cx="689.2" cy="321.0" r="6.15" fill="#DC7E2A"/>
<circle cx="688.2" cy="332.3" r="6.15" fill="#EABA38"/>
<circle cx="694.3" cy="331.2" r="6.15" fill="#C5553E"/>
<circle cx="698.4" cy="326.1" r="6.15" fill="#D2672F"/>
<circle cx="701.5" cy="315.9" r="6.15" fill="#A23957"/>
<circle cx="705.6" cy="313.8" r="6.15" fill="#8F2D60"/>
<circle cx="706.6" cy="322.0" r="6.15" fill="#8F2D60"/>
<circle cx="695.0" cy="318.0" r="6.15" fill="#DC7E2A"/>
<circle cx="721.5" cy="289.7" r="6.15" fill="#8F2D60"/>
<circle cx="721.0" cy="295.4" r="6.15" fill="#A23957"/>
<circle cx="727.1" cy="298.4" r="6.15" fill="#7D2569"/>
<circle cx="729.2" cy="305.6" r="6.15" fill="#7D2569"/>
<circle cx="718.0" cy="298.4" r="6.15" fill="#A23957"/>
<circle cx="716.0" cy="309.7" r="6.15" fill="#C5553E"/>
<circle cx="722.0" cy="310.7" r="6.15" fill="#6A1F6F"/>
<circle cx="716.0" cy="319.0" r="6.15" fill="#8F2D60"/>
<circle cx="717.9" cy="318.9" r="6.15" fill="#8F2D60"/>
<circle cx="730.2" cy="316.9" r="6.15" fill="#B4474B"/>
<circle cx="732.2" cy="310.7" r="6.15" fill="#C5553E"/>
<circle cx="724.0" cy="318.0" r="6.15" fill="#7D2569"/>
<circle cx="740.4" cy="314.8" r="6.15" fill="#7D2569"/>
<circle cx="742.5" cy="323.0" r="6.15" fill="#561A70"/>
<circle cx="738.4" cy="320.9" r="6.15" fill="#C5553E"/>
<circle cx="750.7" cy="318.9" r="6.15" fill="#A23957"/>
<circle cx="758.9" cy="317.9" r="6.15" fill="#A23957"/>
<circle cx="766.6" cy="319.5" r="6.15" fill="#4A1670"/>
<circle cx="718.9" cy="327.1" r="6.15" fill="#B4474B"/>
<circle cx="732.2" cy="327.1" r="6.15" fill="#7D2569"/>
<circle cx="723.0" cy="335.3" r="6.15" fill="#6A1F6F"/>
<circle cx="717.9" cy="340.5" r="6.15" fill="#A23957"/>
<circle cx="727.1" cy="339.4" r="6.15" fill="#8F2D60"/>
<circle cx="722.0" cy="347.6" r="6.15" fill="#A23957"/>
<circle cx="260.3" cy="392.4" r="6.15" fill="#4A1670"/>
<circle cx="652.3" cy="393.0" r="6.15" fill="#4A1670"/>
<circle cx="658.4" cy="391.0" r="6.15" fill="#4A1670"/>
<circle cx="659.0" cy="394.1" r="6.15" fill="#E49A2E"/>
<circle cx="671.8" cy="392.0" r="6.15" fill="#4A1670"/>
<circle cx="690.5" cy="365.0" r="6.15" fill="#4A1670"/>
<circle cx="687.7" cy="368.0" r="6.15" fill="#4A1670"/>
<circle cx="690.7" cy="368.0" r="6.15" fill="#4A1670"/>
<circle cx="685.7" cy="371.0" r="6.15" fill="#4A1670"/>
<circle cx="688.7" cy="371.0" r="6.15" fill="#4A1670"/>
<circle cx="691.7" cy="371.0" r="6.15" fill="#4A1670"/>
<circle cx="685.9" cy="374.0" r="6.15" fill="#4A1670"/>
<circle cx="688.9" cy="374.0" r="6.15" fill="#4A1670"/>
<circle cx="692.0" cy="374.0" r="6.15" fill="#4A1670"/>
<circle cx="695.0" cy="374.0" r="6.15" fill="#4A1670"/>
<circle cx="685.8" cy="377.0" r="6.15" fill="#4A1670"/>
<circle cx="688.8" cy="377.0" r="6.15" fill="#4A1670"/>
<circle cx="691.8" cy="377.0" r="6.15" fill="#4A1670"/>
<circle cx="694.8" cy="377.0" r="6.15" fill="#4A1670"/>
<circle cx="684.5" cy="380.0" r="6.15" fill="#4A1670"/>
<circle cx="687.6" cy="380.0" r="6.15" fill="#4A1670"/>
<circle cx="690.7" cy="380.0" r="6.15" fill="#4A1670"/>
<circle cx="693.8" cy="380.0" r="6.15" fill="#4A1670"/>
<circle cx="697.0" cy="380.0" r="6.15" fill="#4A1670"/>
<circle cx="682.4" cy="383.0" r="6.15" fill="#4A1670"/>
<circle cx="686.0" cy="383.0" r="6.15" fill="#4A1670"/>
<circle cx="689.6" cy="383.0" r="6.15" fill="#4A1670"/>
<circle cx="693.2" cy="383.0" r="6.15" fill="#4A1670"/>
<circle cx="696.8" cy="383.0" r="6.15" fill="#4A1670"/>
<circle cx="684.8" cy="386.0" r="6.15" fill="#4A1670"/>
<circle cx="688.0" cy="386.0" r="6.15" fill="#4A1670"/>
<circle cx="691.1" cy="386.0" r="6.15" fill="#4A1670"/>
<circle cx="694.3" cy="386.0" r="6.15" fill="#4A1670"/>
<circle cx="697.4" cy="386.0" r="6.15" fill="#4A1670"/>
<circle cx="684.1" cy="389.0" r="6.15" fill="#4A1670"/>
<circle cx="687.2" cy="389.0" r="6.15" fill="#4A1670"/>
<circle cx="690.4" cy="389.0" r="6.15" fill="#4A1670"/>
<circle cx="693.5" cy="389.0" r="6.15" fill="#4A1670"/>
<circle cx="696.7" cy="389.0" r="6.15" fill="#4A1670"/>
<circle cx="682.0" cy="392.0" r="6.15" fill="#4A1670"/>
<circle cx="685.2" cy="392.0" r="6.15" fill="#4A1670"/>
<circle cx="688.4" cy="392.0" r="6.15" fill="#4A1670"/>
<circle cx="691.5" cy="392.0" r="6.15" fill="#4A1670"/>
<circle cx="694.7" cy="392.0" r="6.15" fill="#4A1670"/>
<circle cx="697.9" cy="392.0" r="6.15" fill="#4A1670"/>
<circle cx="682.9" cy="395.0" r="6.15" fill="#4A1670"/>
<circle cx="686.7" cy="395.0" r="6.15" fill="#4A1670"/>
<circle cx="690.4" cy="395.0" r="6.15" fill="#4A1670"/>
<circle cx="694.2" cy="395.0" r="6.15" fill="#4A1670"/>
<circle cx="698.0" cy="395.0" r="6.15" fill="#4A1670"/>
<circle cx="685.4" cy="398.0" r="6.15" fill="#4A1670"/>
<circle cx="689.2" cy="398.0" r="6.15" fill="#4A1670"/>
<circle cx="692.9" cy="398.0" r="6.15" fill="#4A1670"/>
<circle cx="696.7" cy="398.0" r="6.15" fill="#4A1670"/>
<circle cx="684.1" cy="401.0" r="6.15" fill="#4A1670"/>
<circle cx="687.7" cy="401.0" r="6.15" fill="#4A1670"/>
<circle cx="691.2" cy="401.0" r="6.15" fill="#4A1670"/>
<circle cx="694.8" cy="401.0" r="6.15" fill="#4A1670"/>
<circle cx="698.4" cy="401.0" r="6.15" fill="#4A1670"/>
<circle cx="685.6" cy="404.0" r="6.15" fill="#4A1670"/>
<circle cx="689.0" cy="404.0" r="6.15" fill="#4A1670"/>
<circle cx="692.5" cy="404.0" r="6.15" fill="#4A1670"/>
<circle cx="695.9" cy="404.0" r="6.15" fill="#4A1670"/>
<circle cx="684.4" cy="407.0" r="6.15" fill="#4A1670"/>
<circle cx="688.1" cy="407.0" r="6.15" fill="#4A1670"/>
<circle cx="691.8" cy="407.0" r="6.15" fill="#4A1670"/>
<circle cx="695.5" cy="407.0" r="6.15" fill="#4A1670"/>
<circle cx="687.8" cy="410.0" r="6.15" fill="#4A1670"/>
<circle cx="690.9" cy="410.0" r="6.15" fill="#4A1670"/>
<circle cx="693.9" cy="410.0" r="6.15" fill="#4A1670"/>
<circle cx="697.0" cy="410.0" r="6.15" fill="#4A1670"/>
<circle cx="686.3" cy="413.0" r="6.15" fill="#4A1670"/>
<circle cx="689.7" cy="413.0" r="6.15" fill="#4A1670"/>
<circle cx="693.1" cy="413.0" r="6.15" fill="#4A1670"/>
<circle cx="696.4" cy="413.0" r="6.15" fill="#4A1670"/>
<circle cx="690.1" cy="416.0" r="6.15" fill="#4A1670"/>
<circle cx="694.8" cy="416.0" r="6.15" fill="#4A1670"/>
<circle cx="690.2" cy="419.0" r="6.15" fill="#4A1670"/>
<circle cx="692.1" cy="419.0" r="6.15" fill="#4A1670"/>
<circle cx="702.5" cy="380.0" r="6.15" fill="#E49A2E"/>
<circle cx="703.3" cy="383.0" r="6.15" fill="#E49A2E"/>
<circle cx="702.4" cy="386.0" r="6.15" fill="#E49A2E"/>
<circle cx="705.5" cy="386.0" r="6.15" fill="#E49A2E"/>
<circle cx="702.2" cy="389.0" r="6.15" fill="#E49A2E"/>
<circle cx="704.9" cy="389.0" r="6.15" fill="#E49A2E"/>
<circle cx="705.4" cy="392.0" r="6.15" fill="#E49A2E"/>
<circle cx="708.1" cy="392.0" r="6.15" fill="#E49A2E"/>
<circle cx="703.7" cy="395.0" r="6.15" fill="#E49A2E"/>
<circle cx="708.6" cy="395.0" r="6.15" fill="#E49A2E"/>
<circle cx="702.8" cy="398.0" r="6.15" fill="#E49A2E"/>
<circle cx="707.2" cy="398.0" r="6.15" fill="#E49A2E"/>
<circle cx="703.7" cy="401.0" r="6.15" fill="#E49A2E"/>
<circle cx="701.8" cy="404.0" r="6.15" fill="#E49A2E"/>
<circle cx="703.6" cy="404.0" r="6.15" fill="#E49A2E"/>
<circle cx="701.8" cy="407.0" r="6.15" fill="#E49A2E"/>
<circle cx="729.0" cy="376.0" r="6.15" fill="#D2672F"/>
<circle cx="720.7" cy="379.0" r="6.15" fill="#D2672F"/>
<circle cx="724.0" cy="379.0" r="6.15" fill="#D2672F"/>
<circle cx="727.3" cy="379.0" r="6.15" fill="#D2672F"/>
<circle cx="730.6" cy="379.0" r="6.15" fill="#D2672F"/>
<circle cx="733.8" cy="379.0" r="6.15" fill="#D2672F"/>
<circle cx="713.2" cy="382.0" r="6.15" fill="#D2672F"/>
<circle cx="716.6" cy="382.0" r="6.15" fill="#D2672F"/>
<circle cx="719.9" cy="382.0" r="6.15" fill="#D2672F"/>
<circle cx="723.3" cy="382.0" r="6.15" fill="#D2672F"/>
<circle cx="726.7" cy="382.0" r="6.15" fill="#D2672F"/>
<circle cx="730.1" cy="382.0" r="6.15" fill="#D2672F"/>
<circle cx="733.5" cy="382.0" r="6.15" fill="#D2672F"/>
<circle cx="736.9" cy="382.0" r="6.15" fill="#D2672F"/>
<circle cx="740.3" cy="382.0" r="6.15" fill="#D2672F"/>
<circle cx="712.6" cy="385.0" r="6.15" fill="#D2672F"/>
<circle cx="716.1" cy="385.0" r="6.15" fill="#D2672F"/>
<circle cx="719.6" cy="385.0" r="6.15" fill="#D2672F"/>
<circle cx="723.0" cy="385.0" r="6.15" fill="#D2672F"/>
<circle cx="726.5" cy="385.0" r="6.15" fill="#D2672F"/>
<circle cx="729.9" cy="385.0" r="6.15" fill="#D2672F"/>
<circle cx="733.4" cy="385.0" r="6.15" fill="#D2672F"/>
<circle cx="736.9" cy="385.0" r="6.15" fill="#D2672F"/>
<circle cx="740.3" cy="385.0" r="6.15" fill="#D2672F"/>
<circle cx="711.6" cy="388.0" r="6.15" fill="#D2672F"/>
<circle cx="715.1" cy="388.0" r="6.15" fill="#D2672F"/>
<circle cx="718.5" cy="388.0" r="6.15" fill="#D2672F"/>
<circle cx="721.9" cy="388.0" r="6.15" fill="#D2672F"/>
<circle cx="725.3" cy="388.0" r="6.15" fill="#D2672F"/>
<circle cx="728.8" cy="388.0" r="6.15" fill="#D2672F"/>
<circle cx="732.2" cy="388.0" r="6.15" fill="#D2672F"/>
<circle cx="735.6" cy="388.0" r="6.15" fill="#D2672F"/>
<circle cx="739.1" cy="388.0" r="6.15" fill="#D2672F"/>
<circle cx="742.5" cy="388.0" r="6.15" fill="#D2672F"/>
<circle cx="711.7" cy="391.0" r="6.15" fill="#D2672F"/>
<circle cx="715.1" cy="391.0" r="6.15" fill="#D2672F"/>
<circle cx="718.4" cy="391.0" r="6.15" fill="#D2672F"/>
<circle cx="721.7" cy="391.0" r="6.15" fill="#D2672F"/>
<circle cx="725.0" cy="391.0" r="6.15" fill="#D2672F"/>
<circle cx="728.4" cy="391.0" r="6.15" fill="#D2672F"/>
<circle cx="731.7" cy="391.0" r="6.15" fill="#D2672F"/>
<circle cx="735.0" cy="391.0" r="6.15" fill="#D2672F"/>
<circle cx="738.3" cy="391.0" r="6.15" fill="#D2672F"/>
<circle cx="741.7" cy="391.0" r="6.15" fill="#D2672F"/>
<circle cx="713.8" cy="394.0" r="6.15" fill="#D2672F"/>
<circle cx="717.4" cy="394.0" r="6.15" fill="#D2672F"/>
<circle cx="721.0" cy="394.0" r="6.15" fill="#D2672F"/>
<circle cx="724.7" cy="394.0" r="6.15" fill="#D2672F"/>
<circle cx="728.3" cy="394.0" r="6.15" fill="#D2672F"/>
<circle cx="731.9" cy="394.0" r="6.15" fill="#D2672F"/>
<circle cx="735.5" cy="394.0" r="6.15" fill="#D2672F"/>
<circle cx="739.2" cy="394.0" r="6.15" fill="#D2672F"/>
<circle cx="742.8" cy="394.0" r="6.15" fill="#D2672F"/>
<circle cx="715.5" cy="397.0" r="6.15" fill="#D2672F"/>
<circle cx="718.8" cy="397.0" r="6.15" fill="#D2672F"/>
<circle cx="722.1" cy="397.0" r="6.15" fill="#D2672F"/>
<circle cx="725.5" cy="397.0" r="6.15" fill="#D2672F"/>
<circle cx="728.8" cy="397.0" r="6.15" fill="#D2672F"/>
<circle cx="732.1" cy="397.0" r="6.15" fill="#D2672F"/>
<circle cx="735.4" cy="397.0" r="6.15" fill="#D2672F"/>
<circle cx="738.8" cy="397.0" r="6.15" fill="#D2672F"/>
<circle cx="742.1" cy="397.0" r="6.15" fill="#D2672F"/>
<circle cx="718.0" cy="400.0" r="6.15" fill="#D2672F"/>
<circle cx="721.7" cy="400.0" r="6.15" fill="#D2672F"/>
<circle cx="725.4" cy="400.0" r="6.15" fill="#D2672F"/>
<circle cx="729.1" cy="400.0" r="6.15" fill="#D2672F"/>
<circle cx="732.7" cy="400.0" r="6.15" fill="#D2672F"/>
<circle cx="736.4" cy="400.0" r="6.15" fill="#D2672F"/>
<circle cx="740.1" cy="400.0" r="6.15" fill="#D2672F"/>
<circle cx="719.4" cy="403.0" r="6.15" fill="#D2672F"/>
<circle cx="723.1" cy="403.0" r="6.15" fill="#D2672F"/>
<circle cx="726.8" cy="403.0" r="6.15" fill="#D2672F"/>
<circle cx="730.5" cy="403.0" r="6.15" fill="#D2672F"/>
<circle cx="734.2" cy="403.0" r="6.15" fill="#D2672F"/>
<circle cx="720.4" cy="406.0" r="6.15" fill="#D2672F"/>
<circle cx="723.7" cy="406.0" r="6.15" fill="#D2672F"/>
<circle cx="727.1" cy="406.0" r="6.15" fill="#D2672F"/>
<circle cx="730.4" cy="406.0" r="6.15" fill="#D2672F"/>
<circle cx="702.5" cy="379.7" r="6.15" fill="#E49A2E"/>
<circle cx="703.5" cy="385.9" r="6.15" fill="#E49A2E"/>
<circle cx="705.6" cy="393.0" r="6.15" fill="#E49A2E"/>
<circle cx="709.7" cy="387.9" r="6.15" fill="#EABA38"/>
<circle cx="703.5" cy="399.2" r="6.15" fill="#E49A2E"/>
<circle cx="701.5" cy="408.4" r="6.15" fill="#EABA38"/>
<circle cx="706.6" cy="403.3" r="6.15" fill="#E49A2E"/>
<circle cx="714.8" cy="383.8" r="6.15" fill="#E49A2E"/>
<circle cx="722.0" cy="379.7" r="6.15" fill="#DC7E2A"/>
<circle cx="729.2" cy="375.6" r="6.15" fill="#DC7E2A"/>
<circle cx="732.2" cy="381.8" r="6.15" fill="#D2672F"/>
<circle cx="722.0" cy="388.9" r="6.15" fill="#DC7E2A"/>
<circle cx="722.0" cy="395.1" r="6.15" fill="#D2672F"/>
<circle cx="730.2" cy="393.0" r="6.15" fill="#D2672F"/>
<circle cx="740.4" cy="384.8" r="6.15" fill="#D2672F"/>
<circle cx="738.4" cy="391.0" r="6.15" fill="#E49A2E"/>
<circle cx="740.4" cy="398.2" r="6.15" fill="#D2672F"/>
<circle cx="721.0" cy="404.3" r="6.15" fill="#DC7E2A"/>
<circle cx="730.2" cy="407.4" r="6.15" fill="#D2672F"/>
<circle cx="734.3" cy="399.2" r="6.15" fill="#D2672F"/>
<circle cx="748.6" cy="394.1" r="6.15" fill="#DC7E2A"/>
<circle cx="750.7" cy="392.0" r="6.15" fill="#C5553E"/>
<circle cx="762.5" cy="393.0" r="6.15" fill="#C5553E"/>
<circle cx="773.7" cy="392.0" r="6.15" fill="#DC7E2A"/>
<circle cx="821.9" cy="393.0" r="6.15" fill="#C5553E"/>
<circle cx="333.9" cy="465.9" r="6.15" fill="#4A1670"/>
<circle cx="516.9" cy="466.3" r="6.15" fill="#4A1670"/>
<circle cx="608.6" cy="465.5" r="6.15" fill="#EABA38"/>
<circle cx="692.0" cy="439.0" r="6.15" fill="#561A70"/>
<circle cx="689.3" cy="442.0" r="6.15" fill="#561A70"/>
<circle cx="692.1" cy="442.0" r="6.15" fill="#561A70"/>
<circle cx="694.8" cy="442.0" r="6.15" fill="#561A70"/>
<circle cx="688.7" cy="445.0" r="6.15" fill="#561A70"/>
<circle cx="692.2" cy="445.0" r="6.15" fill="#561A70"/>
<circle cx="695.7" cy="445.0" r="6.15" fill="#561A70"/>
<circle cx="689.6" cy="448.0" r="6.15" fill="#561A70"/>
<circle cx="693.4" cy="448.0" r="6.15" fill="#561A70"/>
<circle cx="697.2" cy="448.0" r="6.15" fill="#561A70"/>
<circle cx="687.9" cy="451.0" r="6.15" fill="#561A70"/>
<circle cx="691.0" cy="451.0" r="6.15" fill="#561A70"/>
<circle cx="694.0" cy="451.0" r="6.15" fill="#561A70"/>
<circle cx="697.1" cy="451.0" r="6.15" fill="#561A70"/>
<circle cx="688.3" cy="454.0" r="6.15" fill="#561A70"/>
<circle cx="691.5" cy="454.0" r="6.15" fill="#561A70"/>
<circle cx="694.7" cy="454.0" r="6.15" fill="#561A70"/>
<circle cx="697.9" cy="454.0" r="6.15" fill="#561A70"/>
<circle cx="685.8" cy="457.0" r="6.15" fill="#561A70"/>
<circle cx="688.9" cy="457.0" r="6.15" fill="#561A70"/>
<circle cx="692.1" cy="457.0" r="6.15" fill="#561A70"/>
<circle cx="695.2" cy="457.0" r="6.15" fill="#561A70"/>
<circle cx="698.3" cy="457.0" r="6.15" fill="#561A70"/>
<circle cx="684.9" cy="460.0" r="6.15" fill="#561A70"/>
<circle cx="688.4" cy="460.0" r="6.15" fill="#561A70"/>
<circle cx="692.0" cy="460.0" r="6.15" fill="#561A70"/>
<circle cx="695.5" cy="460.0" r="6.15" fill="#561A70"/>
<circle cx="699.0" cy="460.0" r="6.15" fill="#561A70"/>
<circle cx="685.2" cy="463.0" r="6.15" fill="#561A70"/>
<circle cx="688.5" cy="463.0" r="6.15" fill="#561A70"/>
<circle cx="691.7" cy="463.0" r="6.15" fill="#561A70"/>
<circle cx="694.9" cy="463.0" r="6.15" fill="#561A70"/>
<circle cx="698.2" cy="463.0" r="6.15" fill="#561A70"/>
<circle cx="701.4" cy="463.0" r="6.15" fill="#561A70"/>
<circle cx="683.2" cy="466.0" r="6.15" fill="#561A70"/>
<circle cx="686.6" cy="466.0" r="6.15" fill="#561A70"/>
<circle cx="690.1" cy="466.0" r="6.15" fill="#561A70"/>
<circle cx="693.5" cy="466.0" r="6.15" fill="#561A70"/>
<circle cx="697.0" cy="466.0" r="6.15" fill="#561A70"/>
<circle cx="700.4" cy="466.0" r="6.15" fill="#561A70"/>
<circle cx="703.8" cy="466.0" r="6.15" fill="#561A70"/>
<circle cx="685.6" cy="469.0" r="6.15" fill="#561A70"/>
<circle cx="689.0" cy="469.0" r="6.15" fill="#561A70"/>
<circle cx="692.4" cy="469.0" r="6.15" fill="#561A70"/>
<circle cx="695.8" cy="469.0" r="6.15" fill="#561A70"/>
<circle cx="699.2" cy="469.0" r="6.15" fill="#561A70"/>
<circle cx="702.6" cy="469.0" r="6.15" fill="#561A70"/>
<circle cx="685.9" cy="472.0" r="6.15" fill="#561A70"/>
<circle cx="689.2" cy="472.0" r="6.15" fill="#561A70"/>
<circle cx="692.5" cy="472.0" r="6.15" fill="#561A70"/>
<circle cx="695.9" cy="472.0" r="6.15" fill="#561A70"/>
<circle cx="699.2" cy="472.0" r="6.15" fill="#561A70"/>
<circle cx="702.5" cy="472.0" r="6.15" fill="#561A70"/>
<circle cx="686.8" cy="475.0" r="6.15" fill="#561A70"/>
<circle cx="690.0" cy="475.0" r="6.15" fill="#561A70"/>
<circle cx="693.2" cy="475.0" r="6.15" fill="#561A70"/>
<circle cx="696.4" cy="475.0" r="6.15" fill="#561A70"/>
<circle cx="699.7" cy="475.0" r="6.15" fill="#561A70"/>
<circle cx="702.9" cy="475.0" r="6.15" fill="#561A70"/>
<circle cx="687.8" cy="478.0" r="6.15" fill="#561A70"/>
<circle cx="691.4" cy="478.0" r="6.15" fill="#561A70"/>
<circle cx="695.0" cy="478.0" r="6.15" fill="#561A70"/>
<circle cx="698.5" cy="478.0" r="6.15" fill="#561A70"/>
<circle cx="702.1" cy="478.0" r="6.15" fill="#561A70"/>
<circle cx="688.3" cy="481.0" r="6.15" fill="#561A70"/>
<circle cx="691.7" cy="481.0" r="6.15" fill="#561A70"/>
<circle cx="695.2" cy="481.0" r="6.15" fill="#561A70"/>
<circle cx="698.6" cy="481.0" r="6.15" fill="#561A70"/>
<circle cx="702.1" cy="481.0" r="6.15" fill="#561A70"/>
<circle cx="689.3" cy="484.0" r="6.15" fill="#561A70"/>
<circle cx="693.0" cy="484.0" r="6.15" fill="#561A70"/>
<circle cx="696.8" cy="484.0" r="6.15" fill="#561A70"/>
<circle cx="700.5" cy="484.0" r="6.15" fill="#561A70"/>
<circle cx="690.4" cy="487.0" r="6.15" fill="#561A70"/>
<circle cx="693.8" cy="487.0" r="6.15" fill="#561A70"/>
<circle cx="697.2" cy="487.0" r="6.15" fill="#561A70"/>
<circle cx="690.5" cy="490.0" r="6.15" fill="#561A70"/>
<circle cx="693.7" cy="490.0" r="6.15" fill="#561A70"/>
<circle cx="696.8" cy="490.0" r="6.15" fill="#561A70"/>
<circle cx="692.2" cy="493.0" r="6.15" fill="#561A70"/>
<circle cx="717.1" cy="457.0" r="6.15" fill="#6A1F6F"/>
<circle cx="720.0" cy="457.0" r="6.15" fill="#6A1F6F"/>
<circle cx="722.8" cy="457.0" r="6.15" fill="#6A1F6F"/>
<circle cx="711.5" cy="460.0" r="6.15" fill="#6A1F6F"/>
<circle cx="714.7" cy="460.0" r="6.15" fill="#6A1F6F"/>
<circle cx="718.0" cy="460.0" r="6.15" fill="#6A1F6F"/>
<circle cx="721.3" cy="460.0" r="6.15" fill="#6A1F6F"/>
<circle cx="724.6" cy="460.0" r="6.15" fill="#6A1F6F"/>
<circle cx="727.9" cy="460.0" r="6.15" fill="#6A1F6F"/>
<circle cx="731.2" cy="460.0" r="6.15" fill="#6A1F6F"/>
<circle cx="734.5" cy="460.0" r="6.15" fill="#6A1F6F"/>
<circle cx="708.0" cy="463.0" r="6.15" fill="#6A1F6F"/>
<circle cx="711.6" cy="463.0" r="6.15" fill="#6A1F6F"/>
<circle cx="715.3" cy="463.0" r="6.15" fill="#6A1F6F"/>
<circle cx="718.9" cy="463.0" r="6.15" fill="#6A1F6F"/>
<circle cx="722.6" cy="463.0" r="6.15" fill="#6A1F6F"/>
<circle cx="726.2" cy="463.0" r="6.15" fill="#6A1F6F"/>
<circle cx="729.9" cy="463.0" r="6.15" fill="#6A1F6F"/>
<circle cx="733.5" cy="463.0" r="6.15" fill="#6A1F6F"/>
<circle cx="737.2" cy="463.0" r="6.15" fill="#6A1F6F"/>
<circle cx="740.8" cy="463.0" r="6.15" fill="#6A1F6F"/>
<circle cx="744.5" cy="463.0" r="6.15" fill="#6A1F6F"/>
<circle cx="704.6" cy="466.0" r="6.15" fill="#6A1F6F"/>
<circle cx="708.1" cy="466.0" r="6.15" fill="#6A1F6F"/>
<circle cx="711.6" cy="466.0" r="6.15" fill="#6A1F6F"/>
<circle cx="715.0" cy="466.0" r="6.15" fill="#6A1F6F"/>
<circle cx="718.5" cy="466.0" r="6.15" fill="#6A1F6F"/>
<circle cx="721.9" cy="466.0" r="6.15" fill="#6A1F6F"/>
<circle cx="725.4" cy="466.0" r="6.15" fill="#6A1F6F"/>
<circle cx="728.9" cy="466.0" r="6.15" fill="#6A1F6F"/>
<circle cx="732.3" cy="466.0" r="6.15" fill="#6A1F6F"/>
<circle cx="735.8" cy="466.0" r="6.15" fill="#6A1F6F"/>
<circle cx="739.2" cy="466.0" r="6.15" fill="#6A1F6F"/>
<circle cx="742.7" cy="466.0" r="6.15" fill="#6A1F6F"/>
<circle cx="746.2" cy="466.0" r="6.15" fill="#6A1F6F"/>
<circle cx="749.6" cy="466.0" r="6.15" fill="#6A1F6F"/>
<circle cx="753.1" cy="466.0" r="6.15" fill="#6A1F6F"/>
<circle cx="756.5" cy="466.0" r="6.15" fill="#6A1F6F"/>
<circle cx="709.0" cy="469.0" r="6.15" fill="#6A1F6F"/>
<circle cx="712.5" cy="469.0" r="6.15" fill="#6A1F6F"/>
<circle cx="716.0" cy="469.0" r="6.15" fill="#6A1F6F"/>
<circle cx="719.6" cy="469.0" r="6.15" fill="#6A1F6F"/>
<circle cx="723.1" cy="469.0" r="6.15" fill="#6A1F6F"/>
<circle cx="726.6" cy="469.0" r="6.15" fill="#6A1F6F"/>
<circle cx="730.1" cy="469.0" r="6.15" fill="#6A1F6F"/>
<circle cx="733.6" cy="469.0" r="6.15" fill="#6A1F6F"/>
<circle cx="737.1" cy="469.0" r="6.15" fill="#6A1F6F"/>
<circle cx="740.6" cy="469.0" r="6.15" fill="#6A1F6F"/>
<circle cx="744.2" cy="469.0" r="6.15" fill="#6A1F6F"/>
<circle cx="747.7" cy="469.0" r="6.15" fill="#6A1F6F"/>
<circle cx="709.1" cy="472.0" r="6.15" fill="#6A1F6F"/>
<circle cx="712.6" cy="472.0" r="6.15" fill="#6A1F6F"/>
<circle cx="716.2" cy="472.0" r="6.15" fill="#6A1F6F"/>
<circle cx="719.7" cy="472.0" r="6.15" fill="#6A1F6F"/>
<circle cx="723.3" cy="472.0" r="6.15" fill="#6A1F6F"/>
<circle cx="726.8" cy="472.0" r="6.15" fill="#6A1F6F"/>
<circle cx="730.4" cy="472.0" r="6.15" fill="#6A1F6F"/>
<circle cx="733.9" cy="472.0" r="6.15" fill="#6A1F6F"/>
<circle cx="737.5" cy="472.0" r="6.15" fill="#6A1F6F"/>
<circle cx="712.8" cy="475.0" r="6.15" fill="#6A1F6F"/>
<circle cx="716.1" cy="475.0" r="6.15" fill="#6A1F6F"/>
<circle cx="719.4" cy="475.0" r="6.15" fill="#6A1F6F"/>
<circle cx="722.7" cy="475.0" r="6.15" fill="#6A1F6F"/>
<circle cx="726.1" cy="475.0" r="6.15" fill="#6A1F6F"/>
<circle cx="672.0" cy="466.7" r="6.15" fill="#4A1670"/>
<circle cx="679.0" cy="464.5" r="6.15" fill="#561A70"/>
<circle cx="686.0" cy="470.0" r="6.15" fill="#6A1F6F"/>
<circle cx="690.0" cy="478.0" r="6.15" fill="#6A1F6F"/>
<circle cx="692.0" cy="452.0" r="6.15" fill="#6A1F6F"/>
<circle cx="713.3" cy="462.8" r="6.15" fill="#6A1F6F"/>
<circle cx="713.3" cy="471.6" r="6.15" fill="#6A1F6F"/>
<circle cx="721.2" cy="456.6" r="6.15" fill="#6A1F6F"/>
<circle cx="721.2" cy="467.2" r="6.15" fill="#6A1F6F"/>
<circle cx="722.0" cy="476.0" r="6.15" fill="#6A1F6F"/>
<circle cx="725.6" cy="461.9" r="6.15" fill="#6A1F6F"/>
<circle cx="738.7" cy="465.0" r="6.15" fill="#A23957"/>
<circle cx="732.6" cy="466.3" r="6.15" fill="#6A1F6F"/>
<circle cx="745.8" cy="465.4" r="6.15" fill="#7D2569"/>
<circle cx="751.0" cy="461.0" r="6.15" fill="#6A1F6F"/>
<circle cx="755.4" cy="465.4" r="6.15" fill="#6A1F6F"/>
<circle cx="753.7" cy="471.6" r="6.15" fill="#6A1F6F"/>
<circle cx="683.2" cy="519.0" r="6.15" fill="#D2672F"/>
<circle cx="686.4" cy="519.0" r="6.15" fill="#D2672F"/>
<circle cx="689.5" cy="519.0" r="6.15" fill="#D2672F"/>
<circle cx="679.1" cy="522.0" r="6.15" fill="#D2672F"/>
<circle cx="683.1" cy="522.0" r="6.15" fill="#D2672F"/>
<circle cx="687.0" cy="522.0" r="6.15" fill="#D2672F"/>
<circle cx="690.9" cy="522.0" r="6.15" fill="#D2672F"/>
<circle cx="677.7" cy="525.0" r="6.15" fill="#D2672F"/>
<circle cx="681.0" cy="525.0" r="6.15" fill="#D2672F"/>
<circle cx="684.3" cy="525.0" r="6.15" fill="#D2672F"/>
<circle cx="687.6" cy="525.0" r="6.15" fill="#D2672F"/>
<circle cx="691.0" cy="525.0" r="6.15" fill="#D2672F"/>
<circle cx="678.5" cy="528.0" r="6.15" fill="#D2672F"/>
<circle cx="682.1" cy="528.0" r="6.15" fill="#D2672F"/>
<circle cx="685.6" cy="528.0" r="6.15" fill="#D2672F"/>
<circle cx="689.1" cy="528.0" r="6.15" fill="#D2672F"/>
<circle cx="692.7" cy="528.0" r="6.15" fill="#D2672F"/>
<circle cx="674.8" cy="531.0" r="6.15" fill="#D2672F"/>
<circle cx="678.2" cy="531.0" r="6.15" fill="#D2672F"/>
<circle cx="681.7" cy="531.0" r="6.15" fill="#D2672F"/>
<circle cx="685.1" cy="531.0" r="6.15" fill="#D2672F"/>
<circle cx="688.5" cy="531.0" r="6.15" fill="#D2672F"/>
<circle cx="692.0" cy="531.0" r="6.15" fill="#D2672F"/>
<circle cx="674.9" cy="534.0" r="6.15" fill="#D2672F"/>
<circle cx="678.4" cy="534.0" r="6.15" fill="#D2672F"/>
<circle cx="681.9" cy="534.0" r="6.15" fill="#D2672F"/>
<circle cx="685.3" cy="534.0" r="6.15" fill="#D2672F"/>
<circle cx="688.8" cy="534.0" r="6.15" fill="#D2672F"/>
<circle cx="692.3" cy="534.0" r="6.15" fill="#D2672F"/>
<circle cx="673.5" cy="537.0" r="6.15" fill="#D2672F"/>
<circle cx="676.7" cy="537.0" r="6.15" fill="#D2672F"/>
<circle cx="680.0" cy="537.0" r="6.15" fill="#D2672F"/>
<circle cx="683.2" cy="537.0" r="6.15" fill="#D2672F"/>
<circle cx="686.4" cy="537.0" r="6.15" fill="#D2672F"/>
<circle cx="689.6" cy="537.0" r="6.15" fill="#D2672F"/>
<circle cx="692.8" cy="537.0" r="6.15" fill="#D2672F"/>
<circle cx="675.2" cy="540.0" r="6.15" fill="#D2672F"/>
<circle cx="678.7" cy="540.0" r="6.15" fill="#D2672F"/>
<circle cx="682.1" cy="540.0" r="6.15" fill="#D2672F"/>
<circle cx="685.6" cy="540.0" r="6.15" fill="#D2672F"/>
<circle cx="689.0" cy="540.0" r="6.15" fill="#D2672F"/>
<circle cx="692.5" cy="540.0" r="6.15" fill="#D2672F"/>
<circle cx="674.7" cy="543.0" r="6.15" fill="#D2672F"/>
<circle cx="678.0" cy="543.0" r="6.15" fill="#D2672F"/>
<circle cx="681.3" cy="543.0" r="6.15" fill="#D2672F"/>
<circle cx="684.5" cy="543.0" r="6.15" fill="#D2672F"/>
<circle cx="687.8" cy="543.0" r="6.15" fill="#D2672F"/>
<circle cx="691.1" cy="543.0" r="6.15" fill="#D2672F"/>
<circle cx="694.4" cy="543.0" r="6.15" fill="#D2672F"/>
<circle cx="673.3" cy="546.0" r="6.15" fill="#D2672F"/>
<circle cx="676.8" cy="546.0" r="6.15" fill="#D2672F"/>
<circle cx="680.2" cy="546.0" r="6.15" fill="#D2672F"/>
<circle cx="683.6" cy="546.0" r="6.15" fill="#D2672F"/>
<circle cx="687.1" cy="546.0" r="6.15" fill="#D2672F"/>
<circle cx="690.5" cy="546.0" r="6.15" fill="#D2672F"/>
<circle cx="694.0" cy="546.0" r="6.15" fill="#D2672F"/>
<circle cx="676.3" cy="549.0" r="6.15" fill="#D2672F"/>
<circle cx="679.6" cy="549.0" r="6.15" fill="#D2672F"/>
<circle cx="683.0" cy="549.0" r="6.15" fill="#D2672F"/>
<circle cx="686.3" cy="549.0" r="6.15" fill="#D2672F"/>
<circle cx="689.7" cy="549.0" r="6.15" fill="#D2672F"/>
<circle cx="693.0" cy="549.0" r="6.15" fill="#D2672F"/>
<circle cx="675.6" cy="552.0" r="6.15" fill="#D2672F"/>
<circle cx="679.1" cy="552.0" r="6.15" fill="#D2672F"/>
<circle cx="682.6" cy="552.0" r="6.15" fill="#D2672F"/>
<circle cx="686.1" cy="552.0" r="6.15" fill="#D2672F"/>
<circle cx="689.6" cy="552.0" r="6.15" fill="#D2672F"/>
<circle cx="693.1" cy="552.0" r="6.15" fill="#D2672F"/>
<circle cx="678.9" cy="555.0" r="6.15" fill="#D2672F"/>
<circle cx="682.1" cy="555.0" r="6.15" fill="#D2672F"/>
<circle cx="685.2" cy="555.0" r="6.15" fill="#D2672F"/>
<circle cx="688.4" cy="555.0" r="6.15" fill="#D2672F"/>
<circle cx="691.5" cy="555.0" r="6.15" fill="#D2672F"/>
<circle cx="679.2" cy="558.0" r="6.15" fill="#D2672F"/>
<circle cx="682.5" cy="558.0" r="6.15" fill="#D2672F"/>
<circle cx="685.7" cy="558.0" r="6.15" fill="#D2672F"/>
<circle cx="683.0" cy="561.0" r="6.15" fill="#D2672F"/>
<circle cx="711.0" cy="512.0" r="6.15" fill="#8F2D60"/>
<circle cx="706.5" cy="515.0" r="6.15" fill="#8F2D60"/>
<circle cx="710.9" cy="515.0" r="6.15" fill="#8F2D60"/>
<circle cx="715.3" cy="515.0" r="6.15" fill="#8F2D60"/>
<circle cx="704.3" cy="518.0" r="6.15" fill="#8F2D60"/>
<circle cx="707.3" cy="518.0" r="6.15" fill="#8F2D60"/>
<circle cx="710.4" cy="518.0" r="6.15" fill="#8F2D60"/>
<circle cx="713.5" cy="518.0" r="6.15" fill="#8F2D60"/>
<circle cx="716.6" cy="518.0" r="6.15" fill="#8F2D60"/>
<circle cx="702.5" cy="521.0" r="6.15" fill="#8F2D60"/>
<circle cx="705.8" cy="521.0" r="6.15" fill="#8F2D60"/>
<circle cx="709.1" cy="521.0" r="6.15" fill="#8F2D60"/>
<circle cx="712.5" cy="521.0" r="6.15" fill="#8F2D60"/>
<circle cx="715.8" cy="521.0" r="6.15" fill="#8F2D60"/>
<circle cx="719.1" cy="521.0" r="6.15" fill="#8F2D60"/>
<circle cx="722.4" cy="521.0" r="6.15" fill="#8F2D60"/>
<circle cx="703.0" cy="524.0" r="6.15" fill="#8F2D60"/>
<circle cx="706.5" cy="524.0" r="6.15" fill="#8F2D60"/>
<circle cx="709.9" cy="524.0" r="6.15" fill="#8F2D60"/>
<circle cx="713.4" cy="524.0" r="6.15" fill="#8F2D60"/>
<circle cx="716.8" cy="524.0" r="6.15" fill="#8F2D60"/>
<circle cx="720.3" cy="524.0" r="6.15" fill="#8F2D60"/>
<circle cx="723.7" cy="524.0" r="6.15" fill="#8F2D60"/>
<circle cx="700.1" cy="527.0" r="6.15" fill="#8F2D60"/>
<circle cx="703.8" cy="527.0" r="6.15" fill="#8F2D60"/>
<circle cx="707.4" cy="527.0" r="6.15" fill="#8F2D60"/>
<circle cx="711.0" cy="527.0" r="6.15" fill="#8F2D60"/>
<circle cx="714.7" cy="527.0" r="6.15" fill="#8F2D60"/>
<circle cx="718.3" cy="527.0" r="6.15" fill="#8F2D60"/>
<circle cx="721.9" cy="527.0" r="6.15" fill="#8F2D60"/>
<circle cx="725.6" cy="527.0" r="6.15" fill="#8F2D60"/>
<circle cx="729.2" cy="527.0" r="6.15" fill="#8F2D60"/>
<circle cx="700.8" cy="530.0" r="6.15" fill="#8F2D60"/>
<circle cx="704.4" cy="530.0" r="6.15" fill="#8F2D60"/>
<circle cx="707.9" cy="530.0" r="6.15" fill="#8F2D60"/>
<circle cx="711.5" cy="530.0" r="6.15" fill="#8F2D60"/>
<circle cx="715.1" cy="530.0" r="6.15" fill="#8F2D60"/>
<circle cx="718.7" cy="530.0" r="6.15" fill="#8F2D60"/>
<circle cx="722.2" cy="530.0" r="6.15" fill="#8F2D60"/>
<circle cx="725.8" cy="530.0" r="6.15" fill="#8F2D60"/>
<circle cx="729.4" cy="530.0" r="6.15" fill="#8F2D60"/>
<circle cx="733.0" cy="530.0" r="6.15" fill="#8F2D60"/>
<circle cx="698.6" cy="533.0" r="6.15" fill="#8F2D60"/>
<circle cx="702.0" cy="533.0" r="6.15" fill="#8F2D60"/>
<circle cx="705.4" cy="533.0" r="6.15" fill="#8F2D60"/>
<circle cx="708.8" cy="533.0" r="6.15" fill="#8F2D60"/>
<circle cx="712.2" cy="533.0" r="6.15" fill="#8F2D60"/>
<circle cx="715.5" cy="533.0" r="6.15" fill="#8F2D60"/>
<circle cx="718.9" cy="533.0" r="6.15" fill="#8F2D60"/>
<circle cx="722.3" cy="533.0" r="6.15" fill="#8F2D60"/>
<circle cx="725.7" cy="533.0" r="6.15" fill="#8F2D60"/>
<circle cx="729.1" cy="533.0" r="6.15" fill="#8F2D60"/>
<circle cx="732.5" cy="533.0" r="6.15" fill="#8F2D60"/>
<circle cx="735.9" cy="533.0" r="6.15" fill="#8F2D60"/>
<circle cx="699.8" cy="536.0" r="6.15" fill="#8F2D60"/>
<circle cx="703.3" cy="536.0" r="6.15" fill="#8F2D60"/>
<circle cx="706.9" cy="536.0" r="6.15" fill="#8F2D60"/>
<circle cx="710.4" cy="536.0" r="6.15" fill="#8F2D60"/>
<circle cx="713.9" cy="536.0" r="6.15" fill="#8F2D60"/>
<circle cx="717.4" cy="536.0" r="6.15" fill="#8F2D60"/>
<circle cx="721.0" cy="536.0" r="6.15" fill="#8F2D60"/>
<circle cx="724.5" cy="536.0" r="6.15" fill="#8F2D60"/>
<circle cx="728.0" cy="536.0" r="6.15" fill="#8F2D60"/>
<circle cx="731.5" cy="536.0" r="6.15" fill="#8F2D60"/>
<circle cx="735.0" cy="536.0" r="6.15" fill="#8F2D60"/>
<circle cx="738.6" cy="536.0" r="6.15" fill="#8F2D60"/>
<circle cx="742.1" cy="536.0" r="6.15" fill="#8F2D60"/>
<circle cx="697.6" cy="539.0" r="6.15" fill="#8F2D60"/>
<circle cx="701.0" cy="539.0" r="6.15" fill="#8F2D60"/>
<circle cx="704.5" cy="539.0" r="6.15" fill="#8F2D60"/>
<circle cx="707.9" cy="539.0" r="6.15" fill="#8F2D60"/>
<circle cx="711.3" cy="539.0" r="6.15" fill="#8F2D60"/>
<circle cx="714.7" cy="539.0" r="6.15" fill="#8F2D60"/>
<circle cx="718.1" cy="539.0" r="6.15" fill="#8F2D60"/>
<circle cx="721.5" cy="539.0" r="6.15" fill="#8F2D60"/>
<circle cx="724.9" cy="539.0" r="6.15" fill="#8F2D60"/>
<circle cx="728.3" cy="539.0" r="6.15" fill="#8F2D60"/>
<circle cx="731.8" cy="539.0" r="6.15" fill="#8F2D60"/>
<circle cx="735.2" cy="539.0" r="6.15" fill="#8F2D60"/>
<circle cx="738.6" cy="539.0" r="6.15" fill="#8F2D60"/>
<circle cx="742.0" cy="539.0" r="6.15" fill="#8F2D60"/>
<circle cx="745.4" cy="539.0" r="6.15" fill="#8F2D60"/>
<circle cx="699.4" cy="542.0" r="6.15" fill="#8F2D60"/>
<circle cx="702.9" cy="542.0" r="6.15" fill="#8F2D60"/>
<circle cx="706.4" cy="542.0" r="6.15" fill="#8F2D60"/>
<circle cx="709.9" cy="542.0" r="6.15" fill="#8F2D60"/>
<circle cx="713.4" cy="542.0" r="6.15" fill="#8F2D60"/>
<circle cx="716.9" cy="542.0" r="6.15" fill="#8F2D60"/>
<circle cx="720.4" cy="542.0" r="6.15" fill="#8F2D60"/>
<circle cx="723.9" cy="542.0" r="6.15" fill="#8F2D60"/>
<circle cx="727.5" cy="542.0" r="6.15" fill="#8F2D60"/>
<circle cx="731.0" cy="542.0" r="6.15" fill="#8F2D60"/>
<circle cx="734.5" cy="542.0" r="6.15" fill="#8F2D60"/>
<circle cx="738.0" cy="542.0" r="6.15" fill="#8F2D60"/>
<circle cx="741.5" cy="542.0" r="6.15" fill="#8F2D60"/>
<circle cx="745.0" cy="542.0" r="6.15" fill="#8F2D60"/>
<circle cx="697.7" cy="545.0" r="6.15" fill="#8F2D60"/>
<circle cx="701.1" cy="545.0" r="6.15" fill="#8F2D60"/>
<circle cx="704.4" cy="545.0" r="6.15" fill="#8F2D60"/>
<circle cx="707.8" cy="545.0" r="6.15" fill="#8F2D60"/>
<circle cx="711.2" cy="545.0" r="6.15" fill="#8F2D60"/>
<circle cx="714.6" cy="545.0" r="6.15" fill="#8F2D60"/>
<circle cx="718.0" cy="545.0" r="6.15" fill="#8F2D60"/>
<circle cx="721.4" cy="545.0" r="6.15" fill="#8F2D60"/>
<circle cx="724.8" cy="545.0" r="6.15" fill="#8F2D60"/>
<circle cx="728.2" cy="545.0" r="6.15" fill="#8F2D60"/>
<circle cx="731.6" cy="545.0" r="6.15" fill="#8F2D60"/>
<circle cx="735.0" cy="545.0" r="6.15" fill="#8F2D60"/>
<circle cx="738.4" cy="545.0" r="6.15" fill="#8F2D60"/>
<circle cx="741.7" cy="545.0" r="6.15" fill="#8F2D60"/>
<circle cx="745.1" cy="545.0" r="6.15" fill="#8F2D60"/>
<circle cx="698.4" cy="548.0" r="6.15" fill="#8F2D60"/>
<circle cx="701.8" cy="548.0" r="6.15" fill="#8F2D60"/>
<circle cx="705.2" cy="548.0" r="6.15" fill="#8F2D60"/>
<circle cx="708.7" cy="548.0" r="6.15" fill="#8F2D60"/>
<circle cx="712.1" cy="548.0" r="6.15" fill="#8F2D60"/>
<circle cx="715.5" cy="548.0" r="6.15" fill="#8F2D60"/>
<circle cx="718.9" cy="548.0" r="6.15" fill="#8F2D60"/>
<circle cx="722.4" cy="548.0" r="6.15" fill="#8F2D60"/>
<circle cx="725.8" cy="548.0" r="6.15" fill="#8F2D60"/>
<circle cx="729.2" cy="548.0" r="6.15" fill="#8F2D60"/>
<circle cx="732.7" cy="548.0" r="6.15" fill="#8F2D60"/>
<circle cx="736.1" cy="548.0" r="6.15" fill="#8F2D60"/>
<circle cx="739.5" cy="548.0" r="6.15" fill="#8F2D60"/>
<circle cx="700.4" cy="551.0" r="6.15" fill="#8F2D60"/>
<circle cx="703.9" cy="551.0" r="6.15" fill="#8F2D60"/>
<circle cx="707.4" cy="551.0" r="6.15" fill="#8F2D60"/>
<circle cx="711.0" cy="551.0" r="6.15" fill="#8F2D60"/>
<circle cx="714.5" cy="551.0" r="6.15" fill="#8F2D60"/>
<circle cx="718.1" cy="551.0" r="6.15" fill="#8F2D60"/>
<circle cx="721.6" cy="551.0" r="6.15" fill="#8F2D60"/>
<circle cx="725.2" cy="551.0" r="6.15" fill="#8F2D60"/>
<circle cx="728.7" cy="551.0" r="6.15" fill="#8F2D60"/>
<circle cx="732.2" cy="551.0" r="6.15" fill="#8F2D60"/>
<circle cx="701.8" cy="554.0" r="6.15" fill="#8F2D60"/>
<circle cx="705.1" cy="554.0" r="6.15" fill="#8F2D60"/>
<circle cx="708.4" cy="554.0" r="6.15" fill="#8F2D60"/>
<circle cx="711.7" cy="554.0" r="6.15" fill="#8F2D60"/>
<circle cx="715.0" cy="554.0" r="6.15" fill="#8F2D60"/>
<circle cx="718.3" cy="554.0" r="6.15" fill="#8F2D60"/>
<circle cx="721.6" cy="554.0" r="6.15" fill="#8F2D60"/>
<circle cx="724.9" cy="554.0" r="6.15" fill="#8F2D60"/>
<circle cx="728.2" cy="554.0" r="6.15" fill="#8F2D60"/>
<circle cx="702.8" cy="557.0" r="6.15" fill="#8F2D60"/>
<circle cx="706.1" cy="557.0" r="6.15" fill="#8F2D60"/>
<circle cx="709.4" cy="557.0" r="6.15" fill="#8F2D60"/>
<circle cx="712.7" cy="557.0" r="6.15" fill="#8F2D60"/>
<circle cx="716.0" cy="557.0" r="6.15" fill="#8F2D60"/>
<circle cx="719.3" cy="557.0" r="6.15" fill="#8F2D60"/>
<circle cx="705.5" cy="560.0" r="6.15" fill="#8F2D60"/>
<circle cx="709.4" cy="560.0" r="6.15" fill="#8F2D60"/>
<circle cx="713.3" cy="560.0" r="6.15" fill="#8F2D60"/>
<circle cx="707.2" cy="563.0" r="6.15" fill="#8F2D60"/>
<circle cx="710.9" cy="563.0" r="6.15" fill="#8F2D60"/>
<circle cx="712.0" cy="566.0" r="6.15" fill="#8F2D60"/>
<circle cx="367.5" cy="539.6" r="6.15" fill="#7D2569"/>
<circle cx="648.5" cy="540.0" r="6.15" fill="#B4474B"/>
<circle cx="860.5" cy="540.4" r="6.15" fill="#561A70"/>
<circle cx="682.0" cy="517.4" r="6.15" fill="#D2672F"/>
<circle cx="688.2" cy="520.5" r="6.15" fill="#D2672F"/>
<circle cx="677.9" cy="524.6" r="6.15" fill="#D2672F"/>
<circle cx="683.0" cy="525.6" r="6.15" fill="#DC7E2A"/>
<circle cx="690.2" cy="524.6" r="6.15" fill="#D2672F"/>
<circle cx="672.8" cy="534.8" r="6.15" fill="#D2672F"/>
<circle cx="679.0" cy="533.8" r="6.15" fill="#DC7E2A"/>
<circle cx="686.1" cy="535.9" r="6.15" fill="#E49A2E"/>
<circle cx="691.2" cy="537.9" r="6.15" fill="#EABA38"/>
<circle cx="672.8" cy="545.1" r="6.15" fill="#D2672F"/>
<circle cx="680.0" cy="547.1" r="6.15" fill="#D2672F"/>
<circle cx="685.1" cy="543.0" r="6.15" fill="#C5553E"/>
<circle cx="694.3" cy="545.1" r="6.15" fill="#DC7E2A"/>
<circle cx="687.1" cy="551.2" r="6.15" fill="#C5553E"/>
<circle cx="690.2" cy="556.4" r="6.15" fill="#561A70"/>
<circle cx="677.9" cy="555.3" r="6.15" fill="#D2672F"/>
<circle cx="683.0" cy="561.5" r="6.15" fill="#D2672F"/>
<circle cx="703.5" cy="515.4" r="6.15" fill="#6A1F6F"/>
<circle cx="710.7" cy="511.8" r="6.15" fill="#C5553E"/>
<circle cx="718.9" cy="521.5" r="6.15" fill="#A23957"/>
<circle cx="722.0" cy="523.6" r="6.15" fill="#7D2569"/>
<circle cx="702.5" cy="525.6" r="6.15" fill="#B4474B"/>
<circle cx="711.7" cy="525.6" r="6.15" fill="#8F2D60"/>
<circle cx="728.1" cy="528.7" r="6.15" fill="#8F2D60"/>
<circle cx="720.0" cy="532.8" r="6.15" fill="#6A1F6F"/>
<circle cx="699.4" cy="535.9" r="6.15" fill="#B4474B"/>
<circle cx="706.0" cy="538.0" r="6.15" fill="#A23957"/>
<circle cx="710.7" cy="540.0" r="6.15" fill="#C5553E"/>
<circle cx="717.9" cy="543.0" r="6.15" fill="#7D2569"/>
<circle cx="727.1" cy="542.0" r="6.15" fill="#8F2D60"/>
<circle cx="734.3" cy="536.9" r="6.15" fill="#C5553E"/>
<circle cx="742.5" cy="533.8" r="6.15" fill="#561A70"/>
<circle cx="744.5" cy="540.0" r="6.15" fill="#A23957"/>
<circle cx="743.5" cy="545.1" r="6.15" fill="#8F2D60"/>
<circle cx="736.3" cy="544.1" r="6.15" fill="#C5553E"/>
<circle cx="728.1" cy="549.2" r="6.15" fill="#561A70"/>
<circle cx="701.5" cy="551.2" r="6.15" fill="#A23957"/>
<circle cx="711.7" cy="553.3" r="6.15" fill="#A23957"/>
<circle cx="721.0" cy="554.3" r="6.15" fill="#8F2D60"/>
<circle cx="706.6" cy="561.5" r="6.15" fill="#A23957"/>
<circle cx="711.7" cy="566.6" r="6.15" fill="#8F2D60"/>
<circle cx="766.5" cy="540.5" r="6.15" fill="#561A70"/>
<circle cx="767.8" cy="539.0" r="6.15" fill="#8F2D60"/>
<circle cx="272.6" cy="613.2" r="6.15" fill="#4A1670"/>
<circle cx="692.6" cy="586.0" r="6.15" fill="#4A1670"/>
<circle cx="690.2" cy="589.0" r="6.15" fill="#4A1670"/>
<circle cx="692.9" cy="589.0" r="6.15" fill="#4A1670"/>
<circle cx="690.1" cy="592.0" r="6.15" fill="#4A1670"/>
<circle cx="694.4" cy="592.0" r="6.15" fill="#4A1670"/>
<circle cx="690.6" cy="595.0" r="6.15" fill="#4A1670"/>
<circle cx="695.6" cy="595.0" r="6.15" fill="#4A1670"/>
<circle cx="688.9" cy="598.0" r="6.15" fill="#4A1670"/>
<circle cx="692.6" cy="598.0" r="6.15" fill="#4A1670"/>
<circle cx="696.3" cy="598.0" r="6.15" fill="#4A1670"/>
<circle cx="687.8" cy="601.0" r="6.15" fill="#4A1670"/>
<circle cx="692.1" cy="601.0" r="6.15" fill="#4A1670"/>
<circle cx="696.4" cy="601.0" r="6.15" fill="#4A1670"/>
<circle cx="686.9" cy="604.0" r="6.15" fill="#4A1670"/>
<circle cx="690.3" cy="604.0" r="6.15" fill="#4A1670"/>
<circle cx="693.7" cy="604.0" r="6.15" fill="#4A1670"/>
<circle cx="697.1" cy="604.0" r="6.15" fill="#4A1670"/>
<circle cx="688.0" cy="607.0" r="6.15" fill="#4A1670"/>
<circle cx="691.8" cy="607.0" r="6.15" fill="#4A1670"/>
<circle cx="695.5" cy="607.0" r="6.15" fill="#4A1670"/>
<circle cx="699.2" cy="607.0" r="6.15" fill="#4A1670"/>
<circle cx="686.3" cy="610.0" r="6.15" fill="#4A1670"/>
<circle cx="689.5" cy="610.0" r="6.15" fill="#4A1670"/>
<circle cx="692.6" cy="610.0" r="6.15" fill="#4A1670"/>
<circle cx="695.8" cy="610.0" r="6.15" fill="#4A1670"/>
<circle cx="698.9" cy="610.0" r="6.15" fill="#4A1670"/>
<circle cx="688.7" cy="613.0" r="6.15" fill="#4A1670"/>
<circle cx="691.7" cy="613.0" r="6.15" fill="#4A1670"/>
<circle cx="694.7" cy="613.0" r="6.15" fill="#4A1670"/>
<circle cx="697.7" cy="613.0" r="6.15" fill="#4A1670"/>
<circle cx="688.3" cy="616.0" r="6.15" fill="#4A1670"/>
<circle cx="691.7" cy="616.0" r="6.15" fill="#4A1670"/>
<circle cx="695.1" cy="616.0" r="6.15" fill="#4A1670"/>
<circle cx="698.4" cy="616.0" r="6.15" fill="#4A1670"/>
<circle cx="687.3" cy="619.0" r="6.15" fill="#4A1670"/>
<circle cx="691.3" cy="619.0" r="6.15" fill="#4A1670"/>
<circle cx="695.3" cy="619.0" r="6.15" fill="#4A1670"/>
<circle cx="699.3" cy="619.0" r="6.15" fill="#4A1670"/>
<circle cx="687.0" cy="622.0" r="6.15" fill="#4A1670"/>
<circle cx="690.6" cy="622.0" r="6.15" fill="#4A1670"/>
<circle cx="694.3" cy="622.0" r="6.15" fill="#4A1670"/>
<circle cx="697.9" cy="622.0" r="6.15" fill="#4A1670"/>
<circle cx="688.6" cy="625.0" r="6.15" fill="#4A1670"/>
<circle cx="692.1" cy="625.0" r="6.15" fill="#4A1670"/>
<circle cx="695.6" cy="625.0" r="6.15" fill="#4A1670"/>
<circle cx="699.1" cy="625.0" r="6.15" fill="#4A1670"/>
<circle cx="688.3" cy="628.0" r="6.15" fill="#4A1670"/>
<circle cx="691.7" cy="628.0" r="6.15" fill="#4A1670"/>
<circle cx="695.0" cy="628.0" r="6.15" fill="#4A1670"/>
<circle cx="698.4" cy="628.0" r="6.15" fill="#4A1670"/>
<circle cx="690.3" cy="631.0" r="6.15" fill="#4A1670"/>
<circle cx="693.8" cy="631.0" r="6.15" fill="#4A1670"/>
<circle cx="697.4" cy="631.0" r="6.15" fill="#4A1670"/>
<circle cx="690.1" cy="634.0" r="6.15" fill="#4A1670"/>
<circle cx="692.8" cy="634.0" r="6.15" fill="#4A1670"/>
<circle cx="695.4" cy="634.0" r="6.15" fill="#4A1670"/>
<circle cx="689.8" cy="637.0" r="6.15" fill="#4A1670"/>
<circle cx="693.6" cy="637.0" r="6.15" fill="#4A1670"/>
<circle cx="693.0" cy="640.0" r="6.15" fill="#4A1670"/>
<circle cx="676.1" cy="613.4" r="6.15" fill="#4A1670"/>
<circle cx="712.0" cy="588.0" r="6.15" fill="#EABA38"/>
<circle cx="712.2" cy="591.0" r="6.15" fill="#EABA38"/>
<circle cx="709.5" cy="594.0" r="6.15" fill="#EABA38"/>
<circle cx="712.2" cy="594.0" r="6.15" fill="#EABA38"/>
<circle cx="714.9" cy="594.0" r="6.15" fill="#EABA38"/>
<circle cx="709.5" cy="597.0" r="6.15" fill="#EABA38"/>
<circle cx="714.1" cy="597.0" r="6.15" fill="#EABA38"/>
<circle cx="708.4" cy="600.0" r="6.15" fill="#EABA38"/>
<circle cx="711.3" cy="600.0" r="6.15" fill="#EABA38"/>
<circle cx="714.3" cy="600.0" r="6.15" fill="#EABA38"/>
<circle cx="717.3" cy="600.0" r="6.15" fill="#EABA38"/>
<circle cx="710.2" cy="603.0" r="6.15" fill="#EABA38"/>
<circle cx="713.8" cy="603.0" r="6.15" fill="#EABA38"/>
<circle cx="717.4" cy="603.0" r="6.15" fill="#EABA38"/>
<circle cx="707.4" cy="606.0" r="6.15" fill="#EABA38"/>
<circle cx="711.6" cy="606.0" r="6.15" fill="#EABA38"/>
<circle cx="715.8" cy="606.0" r="6.15" fill="#EABA38"/>
<circle cx="706.6" cy="609.0" r="6.15" fill="#EABA38"/>
<circle cx="709.8" cy="609.0" r="6.15" fill="#EABA38"/>
<circle cx="713.1" cy="609.0" r="6.15" fill="#EABA38"/>
<circle cx="716.3" cy="609.0" r="6.15" fill="#EABA38"/>
<circle cx="705.3" cy="612.0" r="6.15" fill="#EABA38"/>
<circle cx="708.9" cy="612.0" r="6.15" fill="#EABA38"/>
<circle cx="712.5" cy="612.0" r="6.15" fill="#EABA38"/>
<circle cx="716.0" cy="612.0" r="6.15" fill="#EABA38"/>
<circle cx="705.7" cy="615.0" r="6.15" fill="#EABA38"/>
<circle cx="709.8" cy="615.0" r="6.15" fill="#EABA38"/>
<circle cx="713.8" cy="615.0" r="6.15" fill="#EABA38"/>
<circle cx="717.9" cy="615.0" r="6.15" fill="#EABA38"/>
<circle cx="708.9" cy="618.0" r="6.15" fill="#EABA38"/>
<circle cx="713.0" cy="618.0" r="6.15" fill="#EABA38"/>
<circle cx="717.1" cy="618.0" r="6.15" fill="#EABA38"/>
<circle cx="707.4" cy="621.0" r="6.15" fill="#EABA38"/>
<circle cx="711.3" cy="621.0" r="6.15" fill="#EABA38"/>
<circle cx="715.1" cy="621.0" r="6.15" fill="#EABA38"/>
<circle cx="718.9" cy="621.0" r="6.15" fill="#EABA38"/>
<circle cx="708.4" cy="624.0" r="6.15" fill="#EABA38"/>
<circle cx="712.5" cy="624.0" r="6.15" fill="#EABA38"/>
<circle cx="716.5" cy="624.0" r="6.15" fill="#EABA38"/>
<circle cx="708.2" cy="627.0" r="6.15" fill="#EABA38"/>
<circle cx="711.9" cy="627.0" r="6.15" fill="#EABA38"/>
<circle cx="715.7" cy="627.0" r="6.15" fill="#EABA38"/>
<circle cx="710.5" cy="630.0" r="6.15" fill="#EABA38"/>
<circle cx="715.1" cy="630.0" r="6.15" fill="#EABA38"/>
<circle cx="710.4" cy="633.0" r="6.15" fill="#EABA38"/>
<circle cx="714.2" cy="633.0" r="6.15" fill="#EABA38"/>
<circle cx="712.6" cy="636.0" r="6.15" fill="#EABA38"/>
<circle cx="712.4" cy="639.0" r="6.15" fill="#EABA38"/>
<circle cx="728.8" cy="613.1" r="6.15" fill="#EABA38"/>
<circle cx="742.0" cy="613.4" r="6.15" fill="#EABA38"/>
<circle cx="899.5" cy="612.7" r="6.15" fill="#EABA38"/>
<circle cx="939.9" cy="613.6" r="6.15" fill="#EABA38"/>
<circle cx="702.5" cy="660.0" r="6.15" fill="#A23957"/>
<circle cx="698.9" cy="663.0" r="6.15" fill="#A23957"/>
<circle cx="702.6" cy="663.0" r="6.15" fill="#A23957"/>
<circle cx="706.4" cy="663.0" r="6.15" fill="#A23957"/>
<circle cx="697.7" cy="666.0" r="6.15" fill="#A23957"/>
<circle cx="701.0" cy="666.0" r="6.15" fill="#A23957"/>
<circle cx="704.3" cy="666.0" r="6.15" fill="#A23957"/>
<circle cx="707.6" cy="666.0" r="6.15" fill="#A23957"/>
<circle cx="710.9" cy="666.0" r="6.15" fill="#A23957"/>
<circle cx="695.4" cy="669.0" r="6.15" fill="#A23957"/>
<circle cx="699.1" cy="669.0" r="6.15" fill="#A23957"/>
<circle cx="702.7" cy="669.0" r="6.15" fill="#A23957"/>
<circle cx="706.4" cy="669.0" r="6.15" fill="#A23957"/>
<circle cx="710.0" cy="669.0" r="6.15" fill="#A23957"/>
<circle cx="713.7" cy="669.0" r="6.15" fill="#A23957"/>
<circle cx="692.9" cy="672.0" r="6.15" fill="#A23957"/>
<circle cx="696.5" cy="672.0" r="6.15" fill="#A23957"/>
<circle cx="700.1" cy="672.0" r="6.15" fill="#A23957"/>
<circle cx="703.7" cy="672.0" r="6.15" fill="#A23957"/>
<circle cx="707.3" cy="672.0" r="6.15" fill="#A23957"/>
<circle cx="710.9" cy="672.0" r="6.15" fill="#A23957"/>
<circle cx="714.4" cy="672.0" r="6.15" fill="#A23957"/>
<circle cx="718.0" cy="672.0" r="6.15" fill="#A23957"/>
<circle cx="690.5" cy="675.0" r="6.15" fill="#A23957"/>
<circle cx="694.1" cy="675.0" r="6.15" fill="#A23957"/>
<circle cx="697.6" cy="675.0" r="6.15" fill="#A23957"/>
<circle cx="701.2" cy="675.0" r="6.15" fill="#A23957"/>
<circle cx="704.8" cy="675.0" r="6.15" fill="#A23957"/>
<circle cx="708.4" cy="675.0" r="6.15" fill="#A23957"/>
<circle cx="711.9" cy="675.0" r="6.15" fill="#A23957"/>
<circle cx="715.5" cy="675.0" r="6.15" fill="#A23957"/>
<circle cx="719.1" cy="675.0" r="6.15" fill="#A23957"/>
<circle cx="722.6" cy="675.0" r="6.15" fill="#A23957"/>
<circle cx="688.0" cy="678.0" r="6.15" fill="#A23957"/>
<circle cx="691.5" cy="678.0" r="6.15" fill="#A23957"/>
<circle cx="694.9" cy="678.0" r="6.15" fill="#A23957"/>
<circle cx="698.4" cy="678.0" r="6.15" fill="#A23957"/>
<circle cx="701.8" cy="678.0" r="6.15" fill="#A23957"/>
<circle cx="705.3" cy="678.0" r="6.15" fill="#A23957"/>
<circle cx="708.7" cy="678.0" r="6.15" fill="#A23957"/>
<circle cx="712.2" cy="678.0" r="6.15" fill="#A23957"/>
<circle cx="715.6" cy="678.0" r="6.15" fill="#A23957"/>
<circle cx="719.1" cy="678.0" r="6.15" fill="#A23957"/>
<circle cx="722.5" cy="678.0" r="6.15" fill="#A23957"/>
<circle cx="726.0" cy="678.0" r="6.15" fill="#A23957"/>
<circle cx="685.5" cy="681.0" r="6.15" fill="#A23957"/>
<circle cx="689.1" cy="681.0" r="6.15" fill="#A23957"/>
<circle cx="692.6" cy="681.0" r="6.15" fill="#A23957"/>
<circle cx="696.2" cy="681.0" r="6.15" fill="#A23957"/>
<circle cx="699.7" cy="681.0" r="6.15" fill="#A23957"/>
<circle cx="703.3" cy="681.0" r="6.15" fill="#A23957"/>
<circle cx="706.9" cy="681.0" r="6.15" fill="#A23957"/>
<circle cx="710.4" cy="681.0" r="6.15" fill="#A23957"/>
<circle cx="714.0" cy="681.0" r="6.15" fill="#A23957"/>
<circle cx="717.5" cy="681.0" r="6.15" fill="#A23957"/>
<circle cx="721.1" cy="681.0" r="6.15" fill="#A23957"/>
<circle cx="724.7" cy="681.0" r="6.15" fill="#A23957"/>
<circle cx="728.2" cy="681.0" r="6.15" fill="#A23957"/>
<circle cx="682.0" cy="684.0" r="6.15" fill="#A23957"/>
<circle cx="685.6" cy="684.0" r="6.15" fill="#A23957"/>
<circle cx="689.1" cy="684.0" r="6.15" fill="#A23957"/>
<circle cx="692.6" cy="684.0" r="6.15" fill="#A23957"/>
<circle cx="696.2" cy="684.0" r="6.15" fill="#A23957"/>
<circle cx="699.7" cy="684.0" r="6.15" fill="#A23957"/>
<circle cx="703.2" cy="684.0" r="6.15" fill="#A23957"/>
<circle cx="706.8" cy="684.0" r="6.15" fill="#A23957"/>
<circle cx="710.3" cy="684.0" r="6.15" fill="#A23957"/>
<circle cx="713.8" cy="684.0" r="6.15" fill="#A23957"/>
<circle cx="717.4" cy="684.0" r="6.15" fill="#A23957"/>
<circle cx="720.9" cy="684.0" r="6.15" fill="#A23957"/>
<circle cx="724.4" cy="684.0" r="6.15" fill="#A23957"/>
<circle cx="727.9" cy="684.0" r="6.15" fill="#A23957"/>
<circle cx="681.6" cy="687.0" r="6.15" fill="#A23957"/>
<circle cx="684.9" cy="687.0" r="6.15" fill="#A23957"/>
<circle cx="688.3" cy="687.0" r="6.15" fill="#A23957"/>
<circle cx="691.7" cy="687.0" r="6.15" fill="#A23957"/>
<circle cx="695.1" cy="687.0" r="6.15" fill="#A23957"/>
<circle cx="698.5" cy="687.0" r="6.15" fill="#A23957"/>
<circle cx="701.8" cy="687.0" r="6.15" fill="#A23957"/>
<circle cx="705.2" cy="687.0" r="6.15" fill="#A23957"/>
<circle cx="708.6" cy="687.0" r="6.15" fill="#A23957"/>
<circle cx="712.0" cy="687.0" r="6.15" fill="#A23957"/>
<circle cx="715.4" cy="687.0" r="6.15" fill="#A23957"/>
<circle cx="718.7" cy="687.0" r="6.15" fill="#A23957"/>
<circle cx="722.1" cy="687.0" r="6.15" fill="#A23957"/>
<circle cx="725.5" cy="687.0" r="6.15" fill="#A23957"/>
<circle cx="728.9" cy="687.0" r="6.15" fill="#A23957"/>
<circle cx="683.7" cy="690.0" r="6.15" fill="#A23957"/>
<circle cx="687.2" cy="690.0" r="6.15" fill="#A23957"/>
<circle cx="690.6" cy="690.0" r="6.15" fill="#A23957"/>
<circle cx="694.0" cy="690.0" r="6.15" fill="#A23957"/>
<circle cx="697.5" cy="690.0" r="6.15" fill="#A23957"/>
<circle cx="700.9" cy="690.0" r="6.15" fill="#A23957"/>
<circle cx="704.4" cy="690.0" r="6.15" fill="#A23957"/>
<circle cx="707.8" cy="690.0" r="6.15" fill="#A23957"/>
<circle cx="711.3" cy="690.0" r="6.15" fill="#A23957"/>
<circle cx="714.7" cy="690.0" r="6.15" fill="#A23957"/>
<circle cx="718.1" cy="690.0" r="6.15" fill="#A23957"/>
<circle cx="721.6" cy="690.0" r="6.15" fill="#A23957"/>
<circle cx="725.0" cy="690.0" r="6.15" fill="#A23957"/>
<circle cx="728.5" cy="690.0" r="6.15" fill="#A23957"/>
<circle cx="684.5" cy="693.0" r="6.15" fill="#A23957"/>
<circle cx="688.1" cy="693.0" r="6.15" fill="#A23957"/>
<circle cx="691.6" cy="693.0" r="6.15" fill="#A23957"/>
<circle cx="695.2" cy="693.0" r="6.15" fill="#A23957"/>
<circle cx="698.7" cy="693.0" r="6.15" fill="#A23957"/>
<circle cx="702.3" cy="693.0" r="6.15" fill="#A23957"/>
<circle cx="705.8" cy="693.0" r="6.15" fill="#A23957"/>
<circle cx="709.4" cy="693.0" r="6.15" fill="#A23957"/>
<circle cx="712.9" cy="693.0" r="6.15" fill="#A23957"/>
<circle cx="716.4" cy="693.0" r="6.15" fill="#A23957"/>
<circle cx="720.0" cy="693.0" r="6.15" fill="#A23957"/>
<circle cx="723.5" cy="693.0" r="6.15" fill="#A23957"/>
<circle cx="727.1" cy="693.0" r="6.15" fill="#A23957"/>
<circle cx="689.0" cy="696.0" r="6.15" fill="#A23957"/>
<circle cx="692.7" cy="696.0" r="6.15" fill="#A23957"/>
<circle cx="696.3" cy="696.0" r="6.15" fill="#A23957"/>
<circle cx="700.0" cy="696.0" r="6.15" fill="#A23957"/>
<circle cx="703.7" cy="696.0" r="6.15" fill="#A23957"/>
<circle cx="707.4" cy="696.0" r="6.15" fill="#A23957"/>
<circle cx="711.1" cy="696.0" r="6.15" fill="#A23957"/>
<circle cx="714.8" cy="696.0" r="6.15" fill="#A23957"/>
<circle cx="718.4" cy="696.0" r="6.15" fill="#A23957"/>
<circle cx="722.1" cy="696.0" r="6.15" fill="#A23957"/>
<circle cx="690.2" cy="699.0" r="6.15" fill="#A23957"/>
<circle cx="693.7" cy="699.0" r="6.15" fill="#A23957"/>
<circle cx="697.2" cy="699.0" r="6.15" fill="#A23957"/>
<circle cx="700.8" cy="699.0" r="6.15" fill="#A23957"/>
<circle cx="704.3" cy="699.0" r="6.15" fill="#A23957"/>
<circle cx="707.8" cy="699.0" r="6.15" fill="#A23957"/>
<circle cx="711.4" cy="699.0" r="6.15" fill="#A23957"/>
<circle cx="714.9" cy="699.0" r="6.15" fill="#A23957"/>
<circle cx="718.4" cy="699.0" r="6.15" fill="#A23957"/>
<circle cx="691.1" cy="702.0" r="6.15" fill="#A23957"/>
<circle cx="694.5" cy="702.0" r="6.15" fill="#A23957"/>
<circle cx="697.9" cy="702.0" r="6.15" fill="#A23957"/>
<circle cx="701.4" cy="702.0" r="6.15" fill="#A23957"/>
<circle cx="704.8" cy="702.0" r="6.15" fill="#A23957"/>
<circle cx="708.2" cy="702.0" r="6.15" fill="#A23957"/>
<circle cx="711.7" cy="702.0" r="6.15" fill="#A23957"/>
<circle cx="715.1" cy="702.0" r="6.15" fill="#A23957"/>
<circle cx="695.6" cy="705.0" r="6.15" fill="#A23957"/>
<circle cx="699.4" cy="705.0" r="6.15" fill="#A23957"/>
<circle cx="703.2" cy="705.0" r="6.15" fill="#A23957"/>
<circle cx="707.0" cy="705.0" r="6.15" fill="#A23957"/>
<circle cx="710.8" cy="705.0" r="6.15" fill="#A23957"/>
<circle cx="714.6" cy="705.0" r="6.15" fill="#A23957"/>
<circle cx="700.0" cy="708.0" r="6.15" fill="#A23957"/>
<circle cx="703.2" cy="708.0" r="6.15" fill="#A23957"/>
<circle cx="706.5" cy="708.0" r="6.15" fill="#A23957"/>
<circle cx="709.8" cy="708.0" r="6.15" fill="#A23957"/>
<circle cx="713.0" cy="708.0" r="6.15" fill="#A23957"/>
<circle cx="701.1" cy="711.0" r="6.15" fill="#A23957"/>
<circle cx="704.5" cy="711.0" r="6.15" fill="#A23957"/>
<circle cx="707.9" cy="711.0" r="6.15" fill="#A23957"/>
<circle cx="523.6" cy="686.3" r="6.15" fill="#8F2D60"/>
<circle cx="555.2" cy="686.7" r="6.15" fill="#7D2569"/>
<circle cx="638.3" cy="685.5" r="6.15" fill="#DC7E2A"/>
<circle cx="702.5" cy="659.6" r="6.15" fill="#A23957"/>
<circle cx="698.8" cy="664.8" r="6.15" fill="#A23957"/>
<circle cx="703.9" cy="669.2" r="6.15" fill="#A23957"/>
<circle cx="714.2" cy="667.7" r="6.15" fill="#B4474B"/>
<circle cx="690.7" cy="673.5" r="6.15" fill="#7D2569"/>
<circle cx="685.6" cy="680.1" r="6.15" fill="#7D2569"/>
<circle cx="696.0" cy="675.0" r="6.15" fill="#8F2D60"/>
<circle cx="703.9" cy="677.2" r="6.15" fill="#A23957"/>
<circle cx="724.4" cy="680.1" r="6.15" fill="#8F2D60"/>
<circle cx="725.2" cy="677.2" r="6.15" fill="#C5553E"/>
<circle cx="715.6" cy="677.2" r="6.15" fill="#D2672F"/>
<circle cx="679.8" cy="687.5" r="6.15" fill="#A23957"/>
<circle cx="686.0" cy="690.0" r="6.15" fill="#7D2569"/>
<circle cx="692.9" cy="684.5" r="6.15" fill="#4A1670"/>
<circle cx="693.7" cy="691.9" r="6.15" fill="#8F2D60"/>
<circle cx="700.0" cy="688.0" r="6.15" fill="#A23957"/>
<circle cx="713.4" cy="686.7" r="6.15" fill="#E49A2E"/>
<circle cx="725.9" cy="693.3" r="6.15" fill="#C5553E"/>
<circle cx="706.9" cy="693.3" r="6.15" fill="#E49A2E"/>
<circle cx="730.3" cy="686.7" r="6.15" fill="#C5553E"/>
<circle cx="726.6" cy="683.8" r="6.15" fill="#C5553E"/>
<circle cx="722.2" cy="691.9" r="6.15" fill="#8F2D60"/>
<circle cx="689.3" cy="697.7" r="6.15" fill="#7D2569"/>
<circle cx="691.5" cy="700.6" r="6.15" fill="#6A1F6F"/>
<circle cx="695.1" cy="699.2" r="6.15" fill="#C5553E"/>
<circle cx="700.0" cy="702.0" r="6.15" fill="#A23957"/>
<circle cx="711.2" cy="702.8" r="6.15" fill="#B4474B"/>
<circle cx="714.2" cy="705.0" r="6.15" fill="#B4474B"/>
<circle cx="699.5" cy="708.7" r="6.15" fill="#A23957"/>
<circle cx="702.5" cy="713.1" r="6.15" fill="#A23957"/>
<circle cx="758.3" cy="685.6" r="6.15" fill="#D2672F"/>
<circle cx="926.1" cy="687.5" r="6.15" fill="#D2672F"/>
<circle cx="712.7" cy="733.0" r="6.15" fill="#6A1F6F"/>
<circle cx="712.3" cy="736.0" r="6.15" fill="#6A1F6F"/>
<circle cx="711.9" cy="739.0" r="6.15" fill="#6A1F6F"/>
<circle cx="711.5" cy="742.0" r="6.15" fill="#6A1F6F"/>
<circle cx="709.0" cy="745.0" r="6.15" fill="#6A1F6F"/>
<circle cx="711.9" cy="745.0" r="6.15" fill="#6A1F6F"/>
<circle cx="714.9" cy="745.0" r="6.15" fill="#6A1F6F"/>
<circle cx="704.9" cy="748.0" r="6.15" fill="#6A1F6F"/>
<circle cx="708.3" cy="748.0" r="6.15" fill="#6A1F6F"/>
<circle cx="711.6" cy="748.0" r="6.15" fill="#6A1F6F"/>
<circle cx="715.0" cy="748.0" r="6.15" fill="#6A1F6F"/>
<circle cx="702.4" cy="751.0" r="6.15" fill="#6A1F6F"/>
<circle cx="705.6" cy="751.0" r="6.15" fill="#6A1F6F"/>
<circle cx="708.8" cy="751.0" r="6.15" fill="#6A1F6F"/>
<circle cx="712.0" cy="751.0" r="6.15" fill="#6A1F6F"/>
<circle cx="715.2" cy="751.0" r="6.15" fill="#6A1F6F"/>
<circle cx="718.4" cy="751.0" r="6.15" fill="#6A1F6F"/>
<circle cx="701.0" cy="754.0" r="6.15" fill="#6A1F6F"/>
<circle cx="704.6" cy="754.0" r="6.15" fill="#6A1F6F"/>
<circle cx="708.2" cy="754.0" r="6.15" fill="#6A1F6F"/>
<circle cx="711.8" cy="754.0" r="6.15" fill="#6A1F6F"/>
<circle cx="715.3" cy="754.0" r="6.15" fill="#6A1F6F"/>
<circle cx="718.9" cy="754.0" r="6.15" fill="#6A1F6F"/>
<circle cx="722.5" cy="754.0" r="6.15" fill="#6A1F6F"/>
<circle cx="701.2" cy="757.0" r="6.15" fill="#6A1F6F"/>
<circle cx="704.5" cy="757.0" r="6.15" fill="#6A1F6F"/>
<circle cx="707.8" cy="757.0" r="6.15" fill="#6A1F6F"/>
<circle cx="711.1" cy="757.0" r="6.15" fill="#6A1F6F"/>
<circle cx="714.5" cy="757.0" r="6.15" fill="#6A1F6F"/>
<circle cx="717.8" cy="757.0" r="6.15" fill="#6A1F6F"/>
<circle cx="721.1" cy="757.0" r="6.15" fill="#6A1F6F"/>
<circle cx="724.4" cy="757.0" r="6.15" fill="#6A1F6F"/>
<circle cx="701.4" cy="760.0" r="6.15" fill="#6A1F6F"/>
<circle cx="704.8" cy="760.0" r="6.15" fill="#6A1F6F"/>
<circle cx="708.2" cy="760.0" r="6.15" fill="#6A1F6F"/>
<circle cx="711.6" cy="760.0" r="6.15" fill="#6A1F6F"/>
<circle cx="715.0" cy="760.0" r="6.15" fill="#6A1F6F"/>
<circle cx="718.4" cy="760.0" r="6.15" fill="#6A1F6F"/>
<circle cx="721.8" cy="760.0" r="6.15" fill="#6A1F6F"/>
<circle cx="725.2" cy="760.0" r="6.15" fill="#6A1F6F"/>
<circle cx="701.4" cy="763.0" r="6.15" fill="#6A1F6F"/>
<circle cx="704.9" cy="763.0" r="6.15" fill="#6A1F6F"/>
<circle cx="708.5" cy="763.0" r="6.15" fill="#6A1F6F"/>
<circle cx="712.1" cy="763.0" r="6.15" fill="#6A1F6F"/>
<circle cx="715.7" cy="763.0" r="6.15" fill="#6A1F6F"/>
<circle cx="719.2" cy="763.0" r="6.15" fill="#6A1F6F"/>
<circle cx="722.8" cy="763.0" r="6.15" fill="#6A1F6F"/>
<circle cx="703.6" cy="766.0" r="6.15" fill="#6A1F6F"/>
<circle cx="706.9" cy="766.0" r="6.15" fill="#6A1F6F"/>
<circle cx="710.2" cy="766.0" r="6.15" fill="#6A1F6F"/>
<circle cx="713.5" cy="766.0" r="6.15" fill="#6A1F6F"/>
<circle cx="716.8" cy="766.0" r="6.15" fill="#6A1F6F"/>
<circle cx="720.1" cy="766.0" r="6.15" fill="#6A1F6F"/>
<circle cx="723.4" cy="766.0" r="6.15" fill="#6A1F6F"/>
<circle cx="704.3" cy="769.0" r="6.15" fill="#6A1F6F"/>
<circle cx="708.2" cy="769.0" r="6.15" fill="#6A1F6F"/>
<circle cx="712.1" cy="769.0" r="6.15" fill="#6A1F6F"/>
<circle cx="716.0" cy="769.0" r="6.15" fill="#6A1F6F"/>
<circle cx="719.9" cy="769.0" r="6.15" fill="#6A1F6F"/>
<circle cx="706.6" cy="772.0" r="6.15" fill="#6A1F6F"/>
<circle cx="710.8" cy="772.0" r="6.15" fill="#6A1F6F"/>
<circle cx="715.0" cy="772.0" r="6.15" fill="#6A1F6F"/>
<circle cx="708.8" cy="775.0" r="6.15" fill="#6A1F6F"/>
<circle cx="712.2" cy="775.0" r="6.15" fill="#6A1F6F"/>
<circle cx="707.8" cy="778.0" r="6.15" fill="#6A1F6F"/>
<circle cx="712.2" cy="778.0" r="6.15" fill="#6A1F6F"/>
<circle cx="711.5" cy="781.0" r="6.15" fill="#6A1F6F"/>
<circle cx="712.2" cy="784.0" r="6.15" fill="#6A1F6F"/>
<circle cx="712.7" cy="787.0" r="6.15" fill="#6A1F6F"/>
<circle cx="158.3" cy="759.8" r="6.15" fill="#B4474B"/>
<circle cx="617.3" cy="760.2" r="6.15" fill="#D2672F"/>
<circle cx="666.1" cy="759.6" r="6.15" fill="#D2672F"/>
<circle cx="679.3" cy="756.9" r="6.15" fill="#C5553E"/>
<circle cx="678.6" cy="760.3" r="6.15" fill="#DC7E2A"/>
<circle cx="692.5" cy="759.0" r="6.15" fill="#C5553E"/>
<circle cx="712.7" cy="733.2" r="6.15" fill="#6A1F6F"/>
<circle cx="711.3" cy="742.3" r="6.15" fill="#8F2D60"/>
<circle cx="705.7" cy="750.6" r="6.15" fill="#8F2D60"/>
<circle cx="718.2" cy="749.9" r="6.15" fill="#C5553E"/>
<circle cx="701.5" cy="753.4" r="6.15" fill="#561A70"/>
<circle cx="708.5" cy="757.6" r="6.15" fill="#7D2569"/>
<circle cx="722.4" cy="757.6" r="6.15" fill="#6A1F6F"/>
<circle cx="701.5" cy="761.7" r="6.15" fill="#4A1670"/>
<circle cx="725.2" cy="761.7" r="6.15" fill="#7D2569"/>
<circle cx="715.0" cy="762.0" r="6.15" fill="#6A1F6F"/>
<circle cx="721.0" cy="765.9" r="6.15" fill="#7D2569"/>
<circle cx="702.9" cy="767.3" r="6.15" fill="#B4474B"/>
<circle cx="711.3" cy="770.1" r="6.15" fill="#A23957"/>
<circle cx="708.5" cy="775.6" r="6.15" fill="#6A1F6F"/>
<circle cx="712.7" cy="779.8" r="6.15" fill="#7D2569"/>
<circle cx="712.7" cy="786.8" r="6.15" fill="#6A1F6F"/>
<circle cx="735.6" cy="760.3" r="6.15" fill="#A23957"/>
<circle cx="753.7" cy="759.6" r="6.15" fill="#561A70"/>
<circle cx="772.1" cy="760.3" r="6.15" fill="#EABA38"/>
<circle cx="699.8" cy="808.0" r="6.15" fill="#4A1670"/>
<circle cx="699.9" cy="811.0" r="6.15" fill="#4A1670"/>
<circle cx="699.4" cy="814.0" r="6.15" fill="#4A1670"/>
<circle cx="702.9" cy="814.0" r="6.15" fill="#4A1670"/>
<circle cx="698.0" cy="817.0" r="6.15" fill="#4A1670"/>
<circle cx="701.9" cy="817.0" r="6.15" fill="#4A1670"/>
<circle cx="696.9" cy="820.0" r="6.15" fill="#4A1670"/>
<circle cx="700.4" cy="820.0" r="6.15" fill="#4A1670"/>
<circle cx="703.8" cy="820.0" r="6.15" fill="#4A1670"/>
<circle cx="696.8" cy="823.0" r="6.15" fill="#4A1670"/>
<circle cx="700.7" cy="823.0" r="6.15" fill="#4A1670"/>
<circle cx="704.6" cy="823.0" r="6.15" fill="#4A1670"/>
<circle cx="695.5" cy="826.0" r="6.15" fill="#4A1670"/>
<circle cx="699.7" cy="826.0" r="6.15" fill="#4A1670"/>
<circle cx="703.8" cy="826.0" r="6.15" fill="#4A1670"/>
<circle cx="693.9" cy="829.0" r="6.15" fill="#4A1670"/>
<circle cx="697.6" cy="829.0" r="6.15" fill="#4A1670"/>
<circle cx="701.3" cy="829.0" r="6.15" fill="#4A1670"/>
<circle cx="705.0" cy="829.0" r="6.15" fill="#4A1670"/>
<circle cx="696.0" cy="832.0" r="6.15" fill="#4A1670"/>
<circle cx="699.3" cy="832.0" r="6.15" fill="#4A1670"/>
<circle cx="702.5" cy="832.0" r="6.15" fill="#4A1670"/>
<circle cx="705.7" cy="832.0" r="6.15" fill="#4A1670"/>
<circle cx="695.7" cy="835.0" r="6.15" fill="#4A1670"/>
<circle cx="698.7" cy="835.0" r="6.15" fill="#4A1670"/>
<circle cx="701.7" cy="835.0" r="6.15" fill="#4A1670"/>
<circle cx="704.8" cy="835.0" r="6.15" fill="#4A1670"/>
<circle cx="694.2" cy="838.0" r="6.15" fill="#4A1670"/>
<circle cx="697.8" cy="838.0" r="6.15" fill="#4A1670"/>
<circle cx="701.3" cy="838.0" r="6.15" fill="#4A1670"/>
<circle cx="704.9" cy="838.0" r="6.15" fill="#4A1670"/>
<circle cx="696.3" cy="841.0" r="6.15" fill="#4A1670"/>
<circle cx="699.4" cy="841.0" r="6.15" fill="#4A1670"/>
<circle cx="702.5" cy="841.0" r="6.15" fill="#4A1670"/>
<circle cx="705.6" cy="841.0" r="6.15" fill="#4A1670"/>
<circle cx="696.5" cy="844.0" r="6.15" fill="#4A1670"/>
<circle cx="700.1" cy="844.0" r="6.15" fill="#4A1670"/>
<circle cx="703.7" cy="844.0" r="6.15" fill="#4A1670"/>
<circle cx="696.8" cy="847.0" r="6.15" fill="#4A1670"/>
<circle cx="700.2" cy="847.0" r="6.15" fill="#4A1670"/>
<circle cx="703.7" cy="847.0" r="6.15" fill="#4A1670"/>
<circle cx="697.6" cy="850.0" r="6.15" fill="#4A1670"/>
<circle cx="702.0" cy="850.0" r="6.15" fill="#4A1670"/>
<circle cx="700.8" cy="853.0" r="6.15" fill="#4A1670"/>
<circle cx="700.9" cy="856.0" r="6.15" fill="#4A1670"/>
<circle cx="702.9" cy="856.0" r="6.15" fill="#4A1670"/>
<circle cx="700.1" cy="859.0" r="6.15" fill="#4A1670"/>
<circle cx="684.0" cy="833.7" r="6.15" fill="#4A1670"/>
<circle cx="720.3" cy="831.3" r="6.15" fill="#4A1670"/>
<circle cx="723.2" cy="827.8" r="6.15" fill="#EABA38"/>
<circle cx="721.5" cy="837.2" r="6.15" fill="#EABA38"/>
<circle cx="729.1" cy="833.7" r="6.15" fill="#EABA38"/>
<circle cx="753.1" cy="833.7" r="6.15" fill="#EABA38"/>
<circle cx="774.8" cy="834.2" r="6.15" fill="#EABA38"/>
<circle cx="796.5" cy="833.1" r="6.15" fill="#EABA38"/>
<circle cx="955.8" cy="834.4" r="6.15" fill="#EABA38"/>
<rect x="109.9" y="55.2" width="1085.20" height="821.90" fill="none" stroke="#2a2a2a" stroke-width="1.5"/>
<line x1="102.50" y1="98.50" x2="110.00" y2="98.50" stroke="#333333" stroke-width="2.4"/>
<text x="74.14" y="103.60" font-size="17.90" textLength="28.10" lengthAdjust="spacingAndGlyphs" fill="#333333">Age</text>
<line x1="102.50" y1="171.99" x2="110.00" y2="171.99" stroke="#333333" stroke-width="2.4"/>
<text x="38.42" y="177.09" font-size="17.90" textLength="62.59" lengthAdjust="spacingAndGlyphs" fill="#333333">Hx-CVD</text>
<line x1="102.50" y1="245.48" x2="110.00" y2="245.48" stroke="#333333" stroke-width="2.4"/>
<text x="76.38" y="250.58" font-size="17.90" textLength="22.99" lengthAdjust="spacingAndGlyphs" fill="#333333">SG</text>
<line x1="102.50" y1="318.97" x2="110.00" y2="318.97" stroke="#333333" stroke-width="2.4"/>
<text x="17.01" y="324.07" font-size="17.90" textLength="83.15" lengthAdjust="spacingAndGlyphs" fill="#333333">PTS-APTT</text>
<line x1="102.50" y1="392.46" x2="110.00" y2="392.46" stroke="#333333" stroke-width="2.4"/>
<text x="26.21" y="397.56" font-size="17.90" textLength="73.95" lengthAdjust="spacingAndGlyphs" fill="#333333">PTS-HCT</text>
<line x1="102.50" y1="465.95" x2="110.00" y2="465.95" stroke="#333333" stroke-width="2.4"/>
<text x="67.40" y="471.05" font-size="17.90" textLength="34.82" lengthAdjust="spacingAndGlyphs" fill="#333333">PBC</text>
<line x1="102.50" y1="539.44" x2="110.00" y2="539.44" stroke="#333333" stroke-width="2.4"/>
<text x="42.71" y="544.54" font-size="17.90" textLength="58.77" lengthAdjust="spacingAndGlyphs" fill="#333333">PTS-TP</text>
<line x1="102.50" y1="612.93" x2="110.00" y2="612.93" stroke="#333333" stroke-width="2.4"/>
<text x="67.31" y="618.03" font-size="17.90" textLength="33.38" lengthAdjust="spacingAndGlyphs" fill="#333333">LBP</text>
<line x1="102.50" y1="686.42" x2="110.00" y2="686.42" stroke="#333333" stroke-width="2.4"/>
<text x="35.31" y="691.52" font-size="17.90" textLength="66.18" lengthAdjust="spacingAndGlyphs" fill="#333333">PTS-FIB</text>
<line x1="102.50" y1="759.91" x2="110.00" y2="759.91" stroke="#333333" stroke-width="2.4"/>
<text x="76.84" y="765.01" font-size="17.90" textLength="25.32" lengthAdjust="spacingAndGlyphs" fill="#333333">OT</text>
<line x1="102.50" y1="833.40" x2="110.00" y2="833.40" stroke="#333333" stroke-width="2.4"/>
<text x="36.61" y="838.50" font-size="17.90" textLength="65.11" lengthAdjust="spacingAndGlyphs" fill="#333333">PTS-INS</text>
<line x1="297.50" y1="877.00" x2="297.50" y2="885.00" stroke="#333333" stroke-width="2.4"/>
<text x="279.26" y="908.60" font-size="18.10" textLength="32.51" lengthAdjust="spacingAndGlyphs" fill="#333333">−0.2</text>
<line x1="503.12" y1="877.00" x2="503.12" y2="885.00" stroke="#333333" stroke-width="2.4"/>
<text x="485.09" y="908.60" font-size="18.10" textLength="31.51" lengthAdjust="spacingAndGlyphs" fill="#333333">−0.1</text>
<line x1="708.75" y1="877.00" x2="708.75" y2="885.00" stroke="#333333" stroke-width="2.4"/>
<text x="696.13" y="908.60" font-size="18.10" textLength="21.83" lengthAdjust="spacingAndGlyphs" fill="#333333">0.0</text>
<line x1="914.38" y1="877.00" x2="914.38" y2="885.00" stroke="#333333" stroke-width="2.4"/>
<text x="901.55" y="908.60" font-size="18.10" textLength="21.44" lengthAdjust="spacingAndGlyphs" fill="#333333">0.1</text>
<line x1="1120.00" y1="877.00" x2="1120.00" y2="885.00" stroke="#333333" stroke-width="2.4"/>
<text x="1107.13" y="908.60" font-size="18.10" textLength="21.92" lengthAdjust="spacingAndGlyphs" fill="#333333">0.2</text>
<text x="604.82" y="942.30" font-size="30.40" textLength="154.55" lengthAdjust="spacingAndGlyphs" fill="#000">SHAP value</text>
<defs><linearGradient id="cb" x1="0" y1="0" x2="0" y2="1"><stop offset="0" stop-color="#E9BE3A"/><stop offset="0.2" stop-color="#DE8A2A"/><stop offset="0.4" stop-color="#C85C3A"/><stop offset="0.55" stop-color="#AD4550"/><stop offset="0.7" stop-color="#8F305C"/><stop offset="0.85" stop-color="#6C2068"/><stop offset="1" stop-color="#4A1670"/></linearGradient></defs>
<rect x="1283.30" y="310.70" width="15.10" height="310.50" fill="url(#cb)"/>
<text x="1313.29" y="319.70" font-size="25.40" textLength="50.11" lengthAdjust="spacingAndGlyphs" fill="#000">High</text>
<text x="1313.29" y="629.90" font-size="25.10" textLength="45.04" lengthAdjust="spacingAndGlyphs" fill="#000">Low</text>
<g transform="translate(1268.5,553.2) rotate(-90)">
<text x="-0.50" y="0.00" font-size="31.00" textLength="170.55" lengthAdjust="spacingAndGlyphs" fill="#000">Feature value</text>
</g>
<text x="0.96" y="998.80" font-size="33.30" textLength="43.79" lengthAdjust="spacingAndGlyphs" fill="#000">(B)</text>
<text x="639.77" y="1003.80" font-size="36.00" textLength="84.75" lengthAdjust="spacingAndGlyphs" fill="#000">GBM</text>
<line x1="298.83" y1="1028.00" x2="298.83" y2="1847.50" stroke="#EBEBEB" stroke-width="1.1"/>
<line x1="594.67" y1="1028.00" x2="594.67" y2="1847.50" stroke="#EBEBEB" stroke-width="1.1"/>
<line x1="890.52" y1="1028.00" x2="890.52" y2="1847.50" stroke="#EBEBEB" stroke-width="1.1"/>
<line x1="1186.38" y1="1028.00" x2="1186.38" y2="1847.50" stroke="#EBEBEB" stroke-width="1.1"/>
<line x1="150.90" y1="1028.00" x2="150.90" y2="1847.50" stroke="#EBEBEB" stroke-width="2.2"/>
<line x1="446.75" y1="1028.00" x2="446.75" y2="1847.50" stroke="#EBEBEB" stroke-width="2.2"/>
<line x1="742.60" y1="1028.00" x2="742.60" y2="1847.50" stroke="#EBEBEB" stroke-width="2.2"/>
<line x1="1038.45" y1="1028.00" x2="1038.45" y2="1847.50" stroke="#EBEBEB" stroke-width="2.2"/>
<line x1="1334.30" y1="1028.00" x2="1334.30" y2="1847.50" stroke="#EBEBEB" stroke-width="2.2"/>
<line x1="95.80" y1="1070.40" x2="1359.40" y2="1070.40" stroke="#EBEBEB" stroke-width="2.2"/>
<line x1="95.80" y1="1143.88" x2="1359.40" y2="1143.88" stroke="#EBEBEB" stroke-width="2.2"/>
<line x1="95.80" y1="1217.36" x2="1359.40" y2="1217.36" stroke="#EBEBEB" stroke-width="2.2"/>
<line x1="95.80" y1="1290.84" x2="1359.40" y2="1290.84" stroke="#EBEBEB" stroke-width="2.2"/>
<line x1="95.80" y1="1364.32" x2="1359.40" y2="1364.32" stroke="#EBEBEB" stroke-width="2.2"/>
<line x1="95.80" y1="1437.80" x2="1359.40" y2="1437.80" stroke="#EBEBEB" stroke-width="2.2"/>
<line x1="95.80" y1="1511.28" x2="1359.40" y2="1511.28" stroke="#EBEBEB" stroke-width="2.2"/>
<line x1="95.80" y1="1584.76" x2="1359.40" y2="1584.76" stroke="#EBEBEB" stroke-width="2.2"/>
<line x1="95.80" y1="1658.24" x2="1359.40" y2="1658.24" stroke="#EBEBEB" stroke-width="2.2"/>
<line x1="95.80" y1="1731.72" x2="1359.40" y2="1731.72" stroke="#EBEBEB" stroke-width="2.2"/>
<line x1="95.80" y1="1805.20" x2="1359.40" y2="1805.20" stroke="#EBEBEB" stroke-width="2.2"/>
<rect x="150.90" y="1046.00" width="1153.40" height="48.80" fill="#E5A22A"/>
<rect x="150.90" y="1119.48" width="938.50" height="48.80" fill="#E5A22A"/>
<rect x="150.90" y="1192.96" width="868.70" height="48.80" fill="#E5A22A"/>
<rect x="150.90" y="1266.44" width="711.90" height="48.80" fill="#E5A22A"/>
<rect x="150.90" y="1339.92" width="705.30" height="48.80" fill="#E5A22A"/>
<rect x="150.90" y="1413.40" width="668.00" height="48.80" fill="#E5A22A"/>
<rect x="150.90" y="1486.88" width="606.70" height="48.80" fill="#E5A22A"/>
<rect x="150.90" y="1560.36" width="551.10" height="48.80" fill="#E5A22A"/>
<rect x="150.90" y="1633.84" width="454.40" height="48.80" fill="#E5A22A"/>
<rect x="150.90" y="1707.32" width="419.70" height="48.80" fill="#E5A22A"/>
<rect x="150.90" y="1780.80" width="388.20" height="48.80" fill="#E5A22A"/>
<rect x="93.8" y="1027.0" width="1267.60" height="821.50" fill="none" stroke="#2a2a2a" stroke-width="1.5"/>
<line x1="86.10" y1="1070.40" x2="93.80" y2="1070.40" stroke="#333333" stroke-width="2.4"/>
<text x="55.93" y="1075.80" font-size="17.90" textLength="28.41" lengthAdjust="spacingAndGlyphs" fill="#333333">Age</text>
<line x1="86.10" y1="1143.88" x2="93.80" y2="1143.88" stroke="#333333" stroke-width="2.4"/>
<text x="22.12" y="1149.28" font-size="17.90" textLength="62.59" lengthAdjust="spacingAndGlyphs" fill="#333333">Hx-CVD</text>
<line x1="86.10" y1="1217.36" x2="93.80" y2="1217.36" stroke="#333333" stroke-width="2.4"/>
<text x="60.49" y="1222.76" font-size="17.90" textLength="22.78" lengthAdjust="spacingAndGlyphs" fill="#333333">SG</text>
<line x1="86.10" y1="1290.84" x2="93.80" y2="1290.84" stroke="#333333" stroke-width="2.4"/>
<text x="3.41" y="1296.24" font-size="17.90" textLength="82.55" lengthAdjust="spacingAndGlyphs" fill="#333333">PTS-APTT</text>
<line x1="86.10" y1="1364.32" x2="93.80" y2="1364.32" stroke="#333333" stroke-width="2.4"/>
<text x="10.41" y="1369.72" font-size="17.90" textLength="74.15" lengthAdjust="spacingAndGlyphs" fill="#333333">PTS-HCT</text>
<line x1="86.10" y1="1437.80" x2="93.80" y2="1437.80" stroke="#333333" stroke-width="2.4"/>
<text x="51.61" y="1443.20" font-size="17.90" textLength="34.30" lengthAdjust="spacingAndGlyphs" fill="#333333">PBC</text>
<line x1="86.10" y1="1511.28" x2="93.80" y2="1511.28" stroke="#333333" stroke-width="2.4"/>
<text x="24.00" y="1516.68" font-size="17.90" textLength="59.69" lengthAdjust="spacingAndGlyphs" fill="#333333">PTS-TP</text>
<line x1="86.10" y1="1584.76" x2="93.80" y2="1584.76" stroke="#333333" stroke-width="2.4"/>
<text x="51.21" y="1590.16" font-size="17.90" textLength="33.17" lengthAdjust="spacingAndGlyphs" fill="#333333">LBP</text>
<line x1="86.10" y1="1658.24" x2="93.80" y2="1658.24" stroke="#333333" stroke-width="2.4"/>
<text x="19.21" y="1663.64" font-size="17.90" textLength="65.87" lengthAdjust="spacingAndGlyphs" fill="#333333">PTS-FIB</text>
<line x1="86.10" y1="1731.72" x2="93.80" y2="1731.72" stroke="#333333" stroke-width="2.4"/>
<text x="58.86" y="1737.12" font-size="17.90" textLength="24.90" lengthAdjust="spacingAndGlyphs" fill="#333333">OT</text>
<line x1="86.10" y1="1805.20" x2="93.80" y2="1805.20" stroke="#333333" stroke-width="2.4"/>
<text x="18.00" y="1810.60" font-size="17.90" textLength="66.23" lengthAdjust="spacingAndGlyphs" fill="#333333">PTS-INS</text>
<line x1="150.90" y1="1848.50" x2="150.90" y2="1856.50" stroke="#333333" stroke-width="2.4"/>
<text x="120.27" y="1880.30" font-size="23.80" textLength="54.86" lengthAdjust="spacingAndGlyphs" fill="#4D4D4D">0.000</text>
<line x1="446.75" y1="1848.50" x2="446.75" y2="1856.50" stroke="#333333" stroke-width="2.4"/>
<text x="415.56" y="1880.30" font-size="23.80" textLength="55.65" lengthAdjust="spacingAndGlyphs" fill="#4D4D4D">0.005</text>
<line x1="742.60" y1="1848.50" x2="742.60" y2="1856.50" stroke="#333333" stroke-width="2.4"/>
<text x="712.07" y="1880.30" font-size="23.80" textLength="54.86" lengthAdjust="spacingAndGlyphs" fill="#4D4D4D">0.010</text>
<line x1="1038.45" y1="1848.50" x2="1038.45" y2="1856.50" stroke="#333333" stroke-width="2.4"/>
<text x="1007.87" y="1880.30" font-size="23.80" textLength="55.23" lengthAdjust="spacingAndGlyphs" fill="#4D4D4D">0.015</text>
<line x1="1334.30" y1="1848.50" x2="1334.30" y2="1856.50" stroke="#333333" stroke-width="2.4"/>
<text x="1303.76" y="1880.30" font-size="23.80" textLength="55.48" lengthAdjust="spacingAndGlyphs" fill="#4D4D4D">0.020</text>
<text x="555.81" y="1914.00" font-size="28.50" textLength="255.09" lengthAdjust="spacingAndGlyphs" fill="#000">mean(|SHAP value|)</text>
<text x="0.96" y="1969.20" font-size="33.30" textLength="45.48" lengthAdjust="spacingAndGlyphs" fill="#000">(C)</text>
<text x="651.70" y="2028.40" font-size="37.00" textLength="83.31" lengthAdjust="spacingAndGlyphs" fill="#000">GBM</text>
<line x1="340.40" y1="2051.30" x2="340.40" y2="2377.00" stroke="#EBEBEB" stroke-width="2.2"/>
<line x1="693.40" y1="2051.30" x2="693.40" y2="2377.00" stroke="#EBEBEB" stroke-width="2.2"/>
<line x1="1046.40" y1="2051.30" x2="1046.40" y2="2377.00" stroke="#EBEBEB" stroke-width="2.2"/>
<polygon points="173.60,2186.80 325.40,2186.80 340.40,2214.65 325.40,2242.50 173.60,2242.50" fill="#EACF4C" stroke="#000" stroke-width="1.4" stroke-linejoin="miter"/>
<polygon points="340.40,2214.65 355.50,2186.80 653.90,2186.80 653.90,2242.50 355.50,2242.50" fill="#8C305E" stroke="#000" stroke-width="1.4" stroke-linejoin="miter"/>
<polygon points="654.30,2214.65 669.40,2186.80 831.60,2186.80 831.60,2242.50 669.40,2242.50" fill="#8C305E" stroke="#000" stroke-width="1.4" stroke-linejoin="miter"/>
<polygon points="831.60,2214.65 846.70,2186.80 994.60,2186.80 994.60,2242.50 846.70,2242.50" fill="#8C305E" stroke="#000" stroke-width="1.4" stroke-linejoin="miter"/>
<polygon points="994.60,2214.65 1009.70,2186.80 1156.60,2186.80 1156.60,2242.50 1009.70,2242.50" fill="#8C305E" stroke="#000" stroke-width="1.4" stroke-linejoin="miter"/>
<polygon points="1156.80,2214.65 1171.90,2186.80 1213.30,2186.80 1213.30,2242.50 1171.90,2242.50" fill="#8C305E" stroke="#000" stroke-width="1.4" stroke-linejoin="miter"/>
<line x1="257.00" y1="2150.50" x2="257.00" y2="2197.00" stroke="#000" stroke-width="1.0" stroke-opacity="0.3"/>
<line x1="497.10" y1="2150.50" x2="497.10" y2="2197.00" stroke="#000" stroke-width="1.0" stroke-opacity="0.3"/>
<line x1="742.80" y1="2150.50" x2="742.80" y2="2197.00" stroke="#000" stroke-width="1.0" stroke-opacity="0.3"/>
<line x1="913.10" y1="2150.50" x2="913.10" y2="2197.00" stroke="#000" stroke-width="1.0" stroke-opacity="0.3"/>
<line x1="1050.30" y1="2149.50" x2="1074.90" y2="2196.80" stroke="#000" stroke-width="1.0" stroke-opacity="0.3"/>
<line x1="1200.50" y1="2237.00" x2="1184.00" y2="2283.40" stroke="#000" stroke-width="1.0" stroke-opacity="0.3"/>
<line x1="340.40" y1="2219.60" x2="340.40" y2="2266.00" stroke="#000" stroke-width="1.7" stroke-dasharray="6.5,6.8"/>
<line x1="1046.40" y1="2231.20" x2="1046.40" y2="2317.00" stroke="#000" stroke-width="1.7" stroke-dasharray="6.3,6.95"/>
<text x="219.50" y="2145.60" font-size="25.60" textLength="70.41" lengthAdjust="spacingAndGlyphs" fill="#000">LBP=1</text>
<text x="455.16" y="2145.70" font-size="25.60" textLength="78.75" lengthAdjust="spacingAndGlyphs" fill="#000">Age=48</text>
<text x="659.40" y="2145.60" font-size="25.60" textLength="155.17" lengthAdjust="spacingAndGlyphs" fill="#000">PTS-HCT=0.37</text>
<text x="860.92" y="2145.60" font-size="25.60" textLength="93.59" lengthAdjust="spacingAndGlyphs" fill="#000">SG=1000</text>
<text x="991.00" y="2145.10" font-size="25.60" textLength="167.28" lengthAdjust="spacingAndGlyphs" fill="#000">PTS-APTT=40.8</text>
<text x="1107.84" y="2302.00" font-size="25.60" textLength="150.11" lengthAdjust="spacingAndGlyphs" fill="#000">6 other features</text>
<text x="170.82" y="2294.50" font-size="25.00" textLength="311.57" lengthAdjust="spacingAndGlyphs" fill="#000">f(x)=0.00000000000000000347</text>
<text x="983.19" y="2345.60" font-size="25.60" textLength="123.44" lengthAdjust="spacingAndGlyphs" fill="#000">E[f(x)]=0.02</text>
<text x="204.59" y="2222.80" font-size="24.50" textLength="94.57" lengthAdjust="spacingAndGlyphs" fill="#000">+0.00472</text>
<text x="444.69" y="2223.50" font-size="24.50" textLength="95.04" lengthAdjust="spacingAndGlyphs" fill="#fff">−0.00888</text>
<text x="690.59" y="2223.30" font-size="24.50" textLength="94.67" lengthAdjust="spacingAndGlyphs" fill="#fff">−0.00502</text>
<text x="860.90" y="2223.30" font-size="24.50" textLength="94.14" lengthAdjust="spacingAndGlyphs" fill="#fff">−0.00463</text>
<text x="1023.29" y="2223.30" font-size="24.50" textLength="94.61" lengthAdjust="spacingAndGlyphs" fill="#fff">−0.00457</text>
<line x1="38.40" y1="2378.20" x2="1348.10" y2="2378.20" stroke="#000" stroke-width="2.6"/>
<line x1="340.40" y1="2378.20" x2="340.40" y2="2385.70" stroke="#333333" stroke-width="2.4"/>
<text x="316.15" y="2409.10" font-size="25.30" textLength="43.49" lengthAdjust="spacingAndGlyphs" fill="#4D4D4D">0.00</text>
<line x1="693.40" y1="2378.20" x2="693.40" y2="2385.70" stroke="#333333" stroke-width="2.4"/>
<text x="671.57" y="2409.10" font-size="25.30" textLength="42.69" lengthAdjust="spacingAndGlyphs" fill="#4D4D4D">0.01</text>
<line x1="1046.40" y1="2378.20" x2="1046.40" y2="2385.70" stroke="#333333" stroke-width="2.4"/>
<text x="1022.06" y="2409.10" font-size="25.30" textLength="43.20" lengthAdjust="spacingAndGlyphs" fill="#4D4D4D">0.02</text>
<text x="632.13" y="2442.60" font-size="30.30" textLength="122.99" lengthAdjust="spacingAndGlyphs" fill="#000">Prediction</text>
</g></svg></body></html>
